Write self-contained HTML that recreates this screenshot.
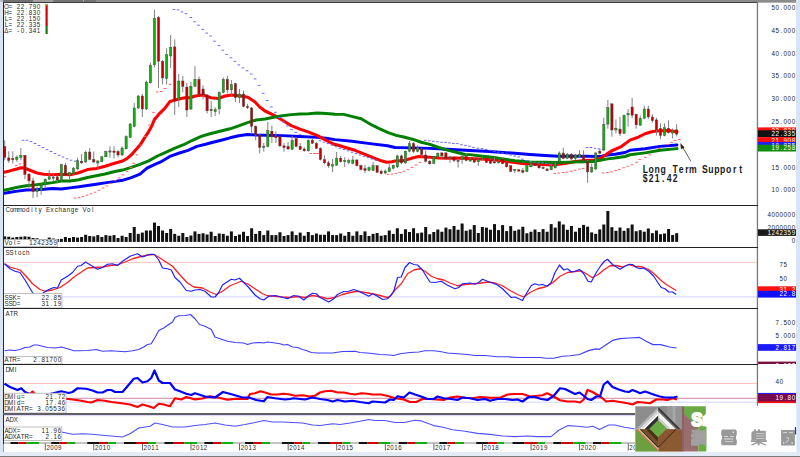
<!DOCTYPE html><html><head><meta charset="utf-8"><style>html,body{margin:0;padding:0;background:#fff;overflow:hidden}svg{display:block}</style></head><body>
<svg width="800" height="457" viewBox="0 0 800 457">
<rect x="0" y="0" width="800" height="457" fill="#ffffff"/>
<polyline points="3.90,193.40 8.75,192.50 17.50,191.10 26.20,190.00 35.00,189.75 43.70,189.30 52.50,188.49 61.20,189.00 70.00,187.90 78.75,186.80 87.50,185.50 96.25,184.20 105.00,182.90 113.75,181.60 122.50,180.30 131.25,177.65 140.00,174.15 147.00,168.18 154.90,164.40 161.90,161.30 170.60,156.10 179.40,153.00 188.10,150.40 196.90,146.40 205.60,144.25 212.00,142.50 221.20,140.20 230.00,137.80 238.70,135.80 247.50,134.50 256.00,135.00 265.00,135.20 282.50,135.60 300.00,136.50 317.50,137.40 326.25,138.25 335.00,139.60 352.00,141.30 370.00,143.60 387.50,145.80 395.00,147.50 412.50,147.90 430.00,148.40 447.50,149.25 465.00,150.30 470.00,150.50 485.00,151.25 500.00,152.30 515.00,153.30 530.00,154.50 545.00,155.50 558.00,156.20 585.00,156.10 596.00,156.50 601.50,156.10 607.50,155.00 615.00,154.25 625.00,152.50 630.00,150.25 645.00,148.75 660.00,146.40 677.00,145.00" fill="none" stroke="#0000ff" stroke-width="2.95" stroke-linejoin="round" stroke-linecap="round"/>
<polyline points="3.90,172.25 8.75,171.20 13.10,169.90 17.50,168.75 21.00,167.70 23.60,167.90 26.20,168.75 30.60,170.50 35.00,172.25 39.40,173.60 43.70,174.30 52.50,174.70 61.20,174.30 70.00,174.70 78.75,172.80 87.50,169.60 96.25,168.40 105.00,166.25 113.75,163.50 122.50,161.00 126.90,158.68 131.25,154.91 135.60,150.00 140.00,145.10 144.40,138.10 148.70,131.60 152.20,125.00 154.30,119.80 159.50,113.60 164.80,108.40 170.00,101.40 173.60,100.50 180.00,98.80 184.80,97.70 190.00,97.70 195.30,96.00 203.00,95.00 211.00,97.70 218.00,98.50 225.00,96.00 232.00,95.00 240.80,96.00 247.80,97.30 254.80,101.80 260.00,107.20 265.00,111.00 273.75,115.10 282.50,120.30 291.25,125.60 300.00,129.10 308.75,132.10 317.50,135.60 326.25,140.40 333.25,143.90 337.50,145.00 346.30,147.70 355.00,150.30 363.80,153.80 372.50,157.30 381.30,160.80 386.50,162.20 391.80,161.70 395.00,161.00 403.75,160.60 412.50,158.00 418.60,156.40 430.00,157.30 438.75,158.00 447.50,158.20 456.25,158.00 465.00,158.20 475.00,158.70 485.00,159.20 500.00,160.40 511.00,162.00 522.00,163.40 537.00,164.30 552.00,164.90 565.00,163.50 575.00,161.50 585.00,160.50 595.00,160.00 600.00,158.75 604.00,156.10 607.50,153.50 611.00,151.25 615.00,149.40 621.70,146.30 630.00,140.10 637.50,137.50 645.00,133.75 652.50,131.50 660.00,130.75 668.40,130.60 677.00,131.70" fill="none" stroke="#ff0000" stroke-width="3.05" stroke-linejoin="round" stroke-linecap="round"/>
<polyline points="3.90,190.20 8.75,189.30 17.50,187.30 26.20,185.80 35.00,184.90 43.70,183.80 52.50,182.60 61.20,181.00 70.00,181.00 78.75,179.70 87.50,177.50 96.25,175.70 105.00,174.00 113.75,171.80 122.50,170.05 131.25,167.40 140.00,164.30 148.70,160.90 157.50,156.00 166.20,152.10 175.00,148.20 183.70,144.70 192.50,140.30 201.20,136.40 210.00,133.75 221.00,131.00 230.00,128.80 238.70,125.80 247.50,122.70 256.20,120.00 265.00,119.00 273.75,117.25 282.50,115.70 291.25,114.60 300.00,114.00 308.75,113.75 317.50,113.00 326.25,113.50 335.00,114.20 343.75,114.40 352.50,116.60 361.25,118.75 370.00,124.00 378.75,128.40 387.50,132.30 396.25,135.40 403.75,137.00 412.50,139.20 421.25,142.25 430.00,144.40 438.75,147.50 447.50,150.10 456.25,152.30 465.00,154.50 470.00,154.60 477.50,155.60 485.00,156.50 492.50,157.25 500.00,158.40 515.00,160.80 530.00,161.90 545.00,162.30 558.00,162.50 570.00,162.10 585.00,161.75 592.50,161.60 600.00,160.25 607.50,158.90 615.00,158.00 625.00,156.50 630.00,154.75 645.00,152.90 660.00,150.25 677.00,148.60" fill="none" stroke="#008000" stroke-width="2.95" stroke-linejoin="round" stroke-linecap="round"/>
<rect x="21.70" y="139.70" width="2.6" height="1" fill="#6a6aff"/>
<rect x="25.70" y="139.70" width="2.6" height="1" fill="#6a6aff"/>
<rect x="29.70" y="141.10" width="2.6" height="1" fill="#6a6aff"/>
<rect x="33.70" y="143.00" width="2.6" height="1" fill="#6a6aff"/>
<rect x="37.70" y="145.00" width="2.6" height="1" fill="#6a6aff"/>
<rect x="41.70" y="147.10" width="2.6" height="1" fill="#6a6aff"/>
<rect x="45.70" y="149.10" width="2.6" height="1" fill="#6a6aff"/>
<rect x="49.70" y="151.00" width="2.6" height="1" fill="#6a6aff"/>
<rect x="53.70" y="153.00" width="2.6" height="1" fill="#6a6aff"/>
<rect x="57.70" y="154.80" width="2.6" height="1" fill="#6a6aff"/>
<rect x="61.70" y="156.50" width="2.6" height="1" fill="#6a6aff"/>
<rect x="65.70" y="158.30" width="2.6" height="1" fill="#6a6aff"/>
<rect x="69.70" y="159.70" width="2.6" height="1" fill="#6a6aff"/>
<rect x="73.70" y="160.70" width="2.6" height="1" fill="#6a6aff"/>
<rect x="172.70" y="9.10" width="2.6" height="1" fill="#6a6aff"/>
<rect x="176.70" y="9.40" width="2.6" height="1" fill="#6a6aff"/>
<rect x="180.70" y="11.40" width="2.6" height="1" fill="#6a6aff"/>
<rect x="184.70" y="13.20" width="2.6" height="1" fill="#6a6aff"/>
<rect x="189.50" y="17.00" width="2.6" height="1" fill="#6a6aff"/>
<rect x="193.30" y="21.30" width="2.6" height="1" fill="#6a6aff"/>
<rect x="197.20" y="24.70" width="2.6" height="1" fill="#6a6aff"/>
<rect x="201.40" y="28.90" width="2.6" height="1" fill="#6a6aff"/>
<rect x="205.40" y="32.60" width="2.6" height="1" fill="#6a6aff"/>
<rect x="209.30" y="35.50" width="2.6" height="1" fill="#6a6aff"/>
<rect x="213.20" y="40.70" width="2.6" height="1" fill="#6a6aff"/>
<rect x="217.60" y="45.10" width="2.6" height="1" fill="#6a6aff"/>
<rect x="221.50" y="49.70" width="2.6" height="1" fill="#6a6aff"/>
<rect x="225.40" y="53.90" width="2.6" height="1" fill="#6a6aff"/>
<rect x="229.70" y="57.20" width="2.6" height="1" fill="#6a6aff"/>
<rect x="233.60" y="60.80" width="2.6" height="1" fill="#6a6aff"/>
<rect x="237.50" y="64.40" width="2.6" height="1" fill="#6a6aff"/>
<rect x="241.60" y="67.40" width="2.6" height="1" fill="#6a6aff"/>
<rect x="245.80" y="70.30" width="2.6" height="1" fill="#6a6aff"/>
<rect x="250.00" y="73.50" width="2.6" height="1" fill="#6a6aff"/>
<rect x="253.80" y="78.40" width="2.6" height="1" fill="#6a6aff"/>
<rect x="257.90" y="84.90" width="2.6" height="1" fill="#6a6aff"/>
<rect x="261.90" y="92.80" width="2.6" height="1" fill="#6a6aff"/>
<rect x="265.90" y="100.00" width="2.6" height="1" fill="#6a6aff"/>
<rect x="270.10" y="106.50" width="2.6" height="1" fill="#6a6aff"/>
<rect x="274.10" y="111.80" width="2.6" height="1" fill="#6a6aff"/>
<rect x="278.20" y="117.00" width="2.6" height="1" fill="#6a6aff"/>
<rect x="282.20" y="121.40" width="2.6" height="1" fill="#6a6aff"/>
<rect x="286.20" y="125.40" width="2.6" height="1" fill="#6a6aff"/>
<rect x="290.20" y="128.90" width="2.6" height="1" fill="#6a6aff"/>
<rect x="294.40" y="131.90" width="2.6" height="1" fill="#6a6aff"/>
<rect x="298.70" y="134.20" width="2.6" height="1" fill="#6a6aff"/>
<rect x="318.70" y="140.20" width="2.6" height="1" fill="#6a6aff"/>
<rect x="322.70" y="141.60" width="2.6" height="1" fill="#6a6aff"/>
<rect x="326.70" y="143.10" width="2.6" height="1" fill="#6a6aff"/>
<rect x="330.70" y="144.60" width="2.6" height="1" fill="#6a6aff"/>
<rect x="334.70" y="146.20" width="2.6" height="1" fill="#6a6aff"/>
<rect x="338.70" y="147.70" width="2.6" height="1" fill="#6a6aff"/>
<rect x="342.70" y="149.00" width="2.6" height="1" fill="#6a6aff"/>
<rect x="346.70" y="150.30" width="2.6" height="1" fill="#6a6aff"/>
<rect x="350.70" y="151.70" width="2.6" height="1" fill="#6a6aff"/>
<rect x="354.70" y="153.10" width="2.6" height="1" fill="#6a6aff"/>
<rect x="358.70" y="154.50" width="2.6" height="1" fill="#6a6aff"/>
<rect x="362.70" y="155.80" width="2.6" height="1" fill="#6a6aff"/>
<rect x="366.70" y="157.10" width="2.6" height="1" fill="#6a6aff"/>
<rect x="370.70" y="158.50" width="2.6" height="1" fill="#6a6aff"/>
<rect x="374.70" y="159.70" width="2.6" height="1" fill="#6a6aff"/>
<rect x="424.00" y="139.80" width="2.6" height="1" fill="#6a6aff"/>
<rect x="428.00" y="140.30" width="2.6" height="1" fill="#6a6aff"/>
<rect x="432.00" y="140.80" width="2.6" height="1" fill="#6a6aff"/>
<rect x="436.10" y="141.30" width="2.6" height="1" fill="#6a6aff"/>
<rect x="440.20" y="141.75" width="2.6" height="1" fill="#6a6aff"/>
<rect x="444.30" y="141.75" width="2.6" height="1" fill="#6a6aff"/>
<rect x="448.10" y="142.40" width="2.6" height="1" fill="#6a6aff"/>
<rect x="452.00" y="142.90" width="2.6" height="1" fill="#6a6aff"/>
<rect x="456.10" y="143.10" width="2.6" height="1" fill="#6a6aff"/>
<rect x="460.10" y="144.20" width="2.6" height="1" fill="#6a6aff"/>
<rect x="464.10" y="144.90" width="2.6" height="1" fill="#6a6aff"/>
<rect x="468.20" y="145.70" width="2.6" height="1" fill="#6a6aff"/>
<rect x="472.20" y="146.90" width="2.6" height="1" fill="#6a6aff"/>
<rect x="476.60" y="147.75" width="2.6" height="1" fill="#6a6aff"/>
<rect x="480.70" y="148.10" width="2.6" height="1" fill="#6a6aff"/>
<rect x="484.80" y="148.90" width="2.6" height="1" fill="#6a6aff"/>
<rect x="488.90" y="149.80" width="2.6" height="1" fill="#6a6aff"/>
<rect x="493.00" y="150.70" width="2.6" height="1" fill="#6a6aff"/>
<rect x="497.10" y="151.60" width="2.6" height="1" fill="#6a6aff"/>
<rect x="501.20" y="152.50" width="2.6" height="1" fill="#6a6aff"/>
<rect x="505.30" y="153.50" width="2.6" height="1" fill="#6a6aff"/>
<rect x="509.40" y="154.50" width="2.6" height="1" fill="#6a6aff"/>
<rect x="513.50" y="155.50" width="2.6" height="1" fill="#6a6aff"/>
<rect x="517.30" y="156.40" width="2.6" height="1" fill="#6a6aff"/>
<rect x="521.20" y="158.60" width="2.6" height="1" fill="#6a6aff"/>
<rect x="525.10" y="160.00" width="2.6" height="1" fill="#6a6aff"/>
<rect x="529.10" y="161.10" width="2.6" height="1" fill="#6a6aff"/>
<rect x="533.20" y="162.30" width="2.6" height="1" fill="#6a6aff"/>
<rect x="537.30" y="162.30" width="2.6" height="1" fill="#6a6aff"/>
<rect x="541.20" y="162.30" width="2.6" height="1" fill="#6a6aff"/>
<rect x="545.00" y="162.90" width="2.6" height="1" fill="#6a6aff"/>
<rect x="549.20" y="164.20" width="2.6" height="1" fill="#6a6aff"/>
<rect x="585.70" y="147.00" width="2.6" height="1" fill="#6a6aff"/>
<rect x="589.70" y="147.00" width="2.6" height="1" fill="#6a6aff"/>
<rect x="593.70" y="147.80" width="2.6" height="1" fill="#6a6aff"/>
<rect x="597.70" y="148.40" width="2.6" height="1" fill="#6a6aff"/>
<rect x="601.70" y="148.90" width="2.6" height="1" fill="#6a6aff"/>
<rect x="3.60" y="176.20" width="2.6" height="1" fill="#ff6060"/>
<rect x="14.80" y="165.10" width="2.6" height="1" fill="#ff6060"/>
<rect x="18.60" y="163.30" width="2.6" height="1" fill="#ff6060"/>
<rect x="73.70" y="197.50" width="2.6" height="1" fill="#ff6060"/>
<rect x="77.70" y="196.90" width="2.6" height="1" fill="#ff6060"/>
<rect x="81.70" y="196.10" width="2.6" height="1" fill="#ff6060"/>
<rect x="85.70" y="194.70" width="2.6" height="1" fill="#ff6060"/>
<rect x="89.70" y="193.30" width="2.6" height="1" fill="#ff6060"/>
<rect x="93.70" y="191.70" width="2.6" height="1" fill="#ff6060"/>
<rect x="97.70" y="189.70" width="2.6" height="1" fill="#ff6060"/>
<rect x="101.70" y="187.50" width="2.6" height="1" fill="#ff6060"/>
<rect x="105.70" y="185.40" width="2.6" height="1" fill="#ff6060"/>
<rect x="109.70" y="182.90" width="2.6" height="1" fill="#ff6060"/>
<rect x="113.70" y="180.20" width="2.6" height="1" fill="#ff6060"/>
<rect x="117.70" y="177.40" width="2.6" height="1" fill="#ff6060"/>
<rect x="121.70" y="174.40" width="2.6" height="1" fill="#ff6060"/>
<rect x="125.70" y="170.90" width="2.6" height="1" fill="#ff6060"/>
<rect x="129.70" y="167.00" width="2.6" height="1" fill="#ff6060"/>
<rect x="132.30" y="162.70" width="2.6" height="1" fill="#ff6060"/>
<rect x="135.70" y="154.30" width="2.6" height="1" fill="#ff6060"/>
<rect x="139.90" y="144.70" width="2.6" height="1" fill="#ff6060"/>
<rect x="143.90" y="135.90" width="2.6" height="1" fill="#ff6060"/>
<rect x="148.30" y="124.50" width="2.6" height="1" fill="#ff6060"/>
<rect x="152.10" y="111.90" width="2.6" height="1" fill="#ff6060"/>
<rect x="155.70" y="91.50" width="2.6" height="1" fill="#ff6060"/>
<rect x="159.70" y="91.00" width="2.6" height="1" fill="#ff6060"/>
<rect x="163.70" y="88.00" width="2.6" height="1" fill="#ff6060"/>
<rect x="168.70" y="83.90" width="2.6" height="1" fill="#ff6060"/>
<rect x="309.20" y="153.00" width="2.6" height="1" fill="#ff6060"/>
<rect x="313.20" y="153.00" width="2.6" height="1" fill="#ff6060"/>
<rect x="316.20" y="153.10" width="2.6" height="1" fill="#ff6060"/>
<rect x="386.70" y="173.80" width="2.6" height="1" fill="#ff6060"/>
<rect x="390.70" y="173.60" width="2.6" height="1" fill="#ff6060"/>
<rect x="394.70" y="172.90" width="2.6" height="1" fill="#ff6060"/>
<rect x="398.70" y="172.00" width="2.6" height="1" fill="#ff6060"/>
<rect x="402.70" y="170.80" width="2.6" height="1" fill="#ff6060"/>
<rect x="406.70" y="169.10" width="2.6" height="1" fill="#ff6060"/>
<rect x="410.70" y="166.90" width="2.6" height="1" fill="#ff6060"/>
<rect x="414.70" y="164.50" width="2.6" height="1" fill="#ff6060"/>
<rect x="418.70" y="161.80" width="2.6" height="1" fill="#ff6060"/>
<rect x="553.40" y="172.90" width="2.6" height="1" fill="#ff6060"/>
<rect x="557.45" y="172.60" width="2.6" height="1" fill="#ff6060"/>
<rect x="561.80" y="172.00" width="2.6" height="1" fill="#ff6060"/>
<rect x="565.60" y="171.60" width="2.6" height="1" fill="#ff6060"/>
<rect x="569.95" y="170.75" width="2.6" height="1" fill="#ff6060"/>
<rect x="573.70" y="169.75" width="2.6" height="1" fill="#ff6060"/>
<rect x="578.10" y="168.60" width="2.6" height="1" fill="#ff6060"/>
<rect x="581.80" y="167.90" width="2.6" height="1" fill="#ff6060"/>
<rect x="601.80" y="172.40" width="2.6" height="1" fill="#ff6060"/>
<rect x="606.20" y="172.00" width="2.6" height="1" fill="#ff6060"/>
<rect x="610.30" y="171.40" width="2.6" height="1" fill="#ff6060"/>
<rect x="614.30" y="170.10" width="2.6" height="1" fill="#ff6060"/>
<rect x="618.10" y="168.90" width="2.6" height="1" fill="#ff6060"/>
<rect x="622.45" y="167.25" width="2.6" height="1" fill="#ff6060"/>
<rect x="626.50" y="165.75" width="2.6" height="1" fill="#ff6060"/>
<rect x="630.60" y="164.25" width="2.6" height="1" fill="#ff6060"/>
<rect x="635.30" y="161.75" width="2.6" height="1" fill="#ff6060"/>
<rect x="638.40" y="158.90" width="2.6" height="1" fill="#ff6060"/>
<rect x="644.10" y="156.90" width="2.6" height="1" fill="#ff6060"/>
<rect x="648.50" y="154.40" width="2.6" height="1" fill="#ff6060"/>
<rect x="658.10" y="147.90" width="2.6" height="1" fill="#ff6060"/>
<rect x="666.60" y="143.90" width="2.6" height="1" fill="#ff6060"/>
<rect x="670.20" y="141.90" width="2.6" height="1" fill="#ff6060"/>
<rect x="673.80" y="140.00" width="2.6" height="1" fill="#ff6060"/>
<rect x="678.00" y="138.90" width="2.6" height="1" fill="#ff6060"/>
<line x1="4.70" y1="140.40" x2="4.70" y2="160.30" stroke="#808080" stroke-width="1.0"/>
<line x1="8.75" y1="151.30" x2="8.75" y2="162.80" stroke="#808080" stroke-width="1.0"/>
<line x1="12.80" y1="151.30" x2="12.80" y2="163.70" stroke="#808080" stroke-width="1.0"/>
<line x1="16.84" y1="155.40" x2="16.84" y2="162.00" stroke="#808080" stroke-width="1.0"/>
<line x1="20.89" y1="148.00" x2="20.89" y2="160.40" stroke="#808080" stroke-width="1.0"/>
<line x1="24.94" y1="155.00" x2="24.94" y2="179.30" stroke="#808080" stroke-width="1.0"/>
<line x1="28.99" y1="173.50" x2="28.99" y2="188.30" stroke="#808080" stroke-width="1.0"/>
<line x1="33.04" y1="177.60" x2="33.04" y2="198.10" stroke="#808080" stroke-width="1.0"/>
<line x1="37.08" y1="186.60" x2="37.08" y2="197.30" stroke="#808080" stroke-width="1.0"/>
<line x1="41.13" y1="183.40" x2="41.13" y2="194.90" stroke="#808080" stroke-width="1.0"/>
<line x1="45.18" y1="178.40" x2="45.18" y2="188.30" stroke="#808080" stroke-width="1.0"/>
<line x1="49.23" y1="170.20" x2="49.23" y2="180.00" stroke="#808080" stroke-width="1.0"/>
<line x1="53.28" y1="173.50" x2="53.28" y2="181.70" stroke="#808080" stroke-width="1.0"/>
<line x1="57.32" y1="175.20" x2="57.32" y2="183.40" stroke="#808080" stroke-width="1.0"/>
<line x1="61.37" y1="163.70" x2="61.37" y2="181.70" stroke="#808080" stroke-width="1.0"/>
<line x1="65.42" y1="162.80" x2="65.42" y2="176.00" stroke="#808080" stroke-width="1.0"/>
<line x1="69.47" y1="171.90" x2="69.47" y2="179.30" stroke="#808080" stroke-width="1.0"/>
<line x1="73.52" y1="167.00" x2="73.52" y2="175.20" stroke="#808080" stroke-width="1.0"/>
<line x1="77.56" y1="157.70" x2="77.56" y2="169.90" stroke="#808080" stroke-width="1.0"/>
<line x1="81.61" y1="154.00" x2="81.61" y2="163.80" stroke="#808080" stroke-width="1.0"/>
<line x1="85.66" y1="150.60" x2="85.66" y2="162.90" stroke="#808080" stroke-width="1.0"/>
<line x1="89.71" y1="148.00" x2="89.71" y2="160.30" stroke="#808080" stroke-width="1.0"/>
<line x1="93.76" y1="151.50" x2="93.76" y2="162.90" stroke="#808080" stroke-width="1.0"/>
<line x1="97.80" y1="160.00" x2="97.80" y2="170.00" stroke="#808080" stroke-width="1.0"/>
<line x1="101.85" y1="156.00" x2="101.85" y2="162.00" stroke="#808080" stroke-width="1.0"/>
<line x1="105.90" y1="150.60" x2="105.90" y2="157.00" stroke="#808080" stroke-width="1.0"/>
<line x1="109.95" y1="146.30" x2="109.95" y2="157.70" stroke="#808080" stroke-width="1.0"/>
<line x1="114.00" y1="146.30" x2="114.00" y2="158.50" stroke="#808080" stroke-width="1.0"/>
<line x1="118.04" y1="149.80" x2="118.04" y2="157.00" stroke="#808080" stroke-width="1.0"/>
<line x1="122.09" y1="146.30" x2="122.09" y2="155.90" stroke="#808080" stroke-width="1.0"/>
<line x1="126.14" y1="135.30" x2="126.14" y2="148.90" stroke="#808080" stroke-width="1.0"/>
<line x1="130.19" y1="123.00" x2="130.19" y2="138.00" stroke="#808080" stroke-width="1.0"/>
<line x1="134.24" y1="103.00" x2="134.24" y2="127.40" stroke="#808080" stroke-width="1.0"/>
<line x1="138.28" y1="95.00" x2="138.28" y2="109.00" stroke="#808080" stroke-width="1.0"/>
<line x1="142.33" y1="94.00" x2="142.33" y2="117.00" stroke="#808080" stroke-width="1.0"/>
<line x1="146.38" y1="80.70" x2="146.38" y2="110.00" stroke="#808080" stroke-width="1.0"/>
<line x1="150.43" y1="62.70" x2="150.43" y2="83.60" stroke="#808080" stroke-width="1.0"/>
<line x1="154.48" y1="9.60" x2="154.48" y2="67.40" stroke="#808080" stroke-width="1.0"/>
<line x1="158.52" y1="16.00" x2="158.52" y2="88.00" stroke="#808080" stroke-width="1.0"/>
<line x1="162.57" y1="60.00" x2="162.57" y2="84.50" stroke="#808080" stroke-width="1.0"/>
<line x1="166.62" y1="48.20" x2="166.62" y2="84.50" stroke="#808080" stroke-width="1.0"/>
<line x1="170.67" y1="35.00" x2="170.67" y2="67.90" stroke="#808080" stroke-width="1.0"/>
<line x1="174.72" y1="39.40" x2="174.72" y2="115.00" stroke="#808080" stroke-width="1.0"/>
<line x1="178.76" y1="74.00" x2="178.76" y2="107.00" stroke="#808080" stroke-width="1.0"/>
<line x1="182.81" y1="75.80" x2="182.81" y2="92.40" stroke="#808080" stroke-width="1.0"/>
<line x1="186.86" y1="82.80" x2="186.86" y2="117.00" stroke="#808080" stroke-width="1.0"/>
<line x1="190.91" y1="82.00" x2="190.91" y2="110.00" stroke="#808080" stroke-width="1.0"/>
<line x1="194.96" y1="66.00" x2="194.96" y2="87.00" stroke="#808080" stroke-width="1.0"/>
<line x1="199.00" y1="76.60" x2="199.00" y2="95.00" stroke="#808080" stroke-width="1.0"/>
<line x1="203.05" y1="85.40" x2="203.05" y2="99.40" stroke="#808080" stroke-width="1.0"/>
<line x1="207.10" y1="94.00" x2="207.10" y2="113.40" stroke="#808080" stroke-width="1.0"/>
<line x1="211.15" y1="101.00" x2="211.15" y2="117.00" stroke="#808080" stroke-width="1.0"/>
<line x1="215.20" y1="107.30" x2="215.20" y2="116.00" stroke="#808080" stroke-width="1.0"/>
<line x1="219.24" y1="91.50" x2="219.24" y2="114.30" stroke="#808080" stroke-width="1.0"/>
<line x1="223.29" y1="77.50" x2="223.29" y2="93.30" stroke="#808080" stroke-width="1.0"/>
<line x1="227.34" y1="75.80" x2="227.34" y2="93.30" stroke="#808080" stroke-width="1.0"/>
<line x1="231.39" y1="80.00" x2="231.39" y2="96.00" stroke="#808080" stroke-width="1.0"/>
<line x1="235.44" y1="82.80" x2="235.44" y2="102.00" stroke="#808080" stroke-width="1.0"/>
<line x1="239.48" y1="89.00" x2="239.48" y2="103.00" stroke="#808080" stroke-width="1.0"/>
<line x1="243.53" y1="90.60" x2="243.53" y2="107.30" stroke="#808080" stroke-width="1.0"/>
<line x1="247.58" y1="103.80" x2="247.58" y2="109.00" stroke="#808080" stroke-width="1.0"/>
<line x1="251.63" y1="107.00" x2="251.63" y2="134.00" stroke="#808080" stroke-width="1.0"/>
<line x1="255.68" y1="125.40" x2="255.68" y2="140.30" stroke="#808080" stroke-width="1.0"/>
<line x1="259.72" y1="133.30" x2="259.72" y2="153.40" stroke="#808080" stroke-width="1.0"/>
<line x1="263.77" y1="143.00" x2="263.77" y2="151.70" stroke="#808080" stroke-width="1.0"/>
<line x1="267.82" y1="121.90" x2="267.82" y2="147.30" stroke="#808080" stroke-width="1.0"/>
<line x1="271.87" y1="125.40" x2="271.87" y2="143.00" stroke="#808080" stroke-width="1.0"/>
<line x1="275.92" y1="131.50" x2="275.92" y2="143.00" stroke="#808080" stroke-width="1.0"/>
<line x1="279.96" y1="136.00" x2="279.96" y2="147.00" stroke="#808080" stroke-width="1.0"/>
<line x1="284.01" y1="143.00" x2="284.01" y2="151.70" stroke="#808080" stroke-width="1.0"/>
<line x1="288.06" y1="142.00" x2="288.06" y2="150.00" stroke="#808080" stroke-width="1.0"/>
<line x1="292.11" y1="136.00" x2="292.11" y2="150.00" stroke="#808080" stroke-width="1.0"/>
<line x1="296.16" y1="137.60" x2="296.16" y2="147.30" stroke="#808080" stroke-width="1.0"/>
<line x1="300.20" y1="143.00" x2="300.20" y2="150.00" stroke="#808080" stroke-width="1.0"/>
<line x1="304.25" y1="147.30" x2="304.25" y2="151.70" stroke="#808080" stroke-width="1.0"/>
<line x1="308.30" y1="139.40" x2="308.30" y2="151.70" stroke="#808080" stroke-width="1.0"/>
<line x1="312.35" y1="139.00" x2="312.35" y2="143.80" stroke="#808080" stroke-width="1.0"/>
<line x1="316.40" y1="142.00" x2="316.40" y2="149.00" stroke="#808080" stroke-width="1.0"/>
<line x1="320.44" y1="147.30" x2="320.44" y2="160.40" stroke="#808080" stroke-width="1.0"/>
<line x1="324.49" y1="155.50" x2="324.49" y2="164.30" stroke="#808080" stroke-width="1.0"/>
<line x1="328.54" y1="160.80" x2="328.54" y2="167.80" stroke="#808080" stroke-width="1.0"/>
<line x1="332.59" y1="159.00" x2="332.59" y2="172.20" stroke="#808080" stroke-width="1.0"/>
<line x1="336.64" y1="152.00" x2="336.64" y2="165.70" stroke="#808080" stroke-width="1.0"/>
<line x1="340.68" y1="156.00" x2="340.68" y2="162.50" stroke="#808080" stroke-width="1.0"/>
<line x1="344.73" y1="157.30" x2="344.73" y2="167.00" stroke="#808080" stroke-width="1.0"/>
<line x1="348.78" y1="158.70" x2="348.78" y2="164.30" stroke="#808080" stroke-width="1.0"/>
<line x1="352.83" y1="156.00" x2="352.83" y2="164.30" stroke="#808080" stroke-width="1.0"/>
<line x1="356.88" y1="159.00" x2="356.88" y2="166.40" stroke="#808080" stroke-width="1.0"/>
<line x1="360.92" y1="164.60" x2="360.92" y2="170.40" stroke="#808080" stroke-width="1.0"/>
<line x1="364.97" y1="165.00" x2="364.97" y2="173.00" stroke="#808080" stroke-width="1.0"/>
<line x1="369.02" y1="166.40" x2="369.02" y2="171.30" stroke="#808080" stroke-width="1.0"/>
<line x1="373.07" y1="162.00" x2="373.07" y2="171.00" stroke="#808080" stroke-width="1.0"/>
<line x1="377.12" y1="165.20" x2="377.12" y2="173.00" stroke="#808080" stroke-width="1.0"/>
<line x1="381.16" y1="169.50" x2="381.16" y2="174.40" stroke="#808080" stroke-width="1.0"/>
<line x1="385.21" y1="169.50" x2="385.21" y2="174.40" stroke="#808080" stroke-width="1.0"/>
<line x1="389.26" y1="164.00" x2="389.26" y2="172.20" stroke="#808080" stroke-width="1.0"/>
<line x1="393.31" y1="164.60" x2="393.31" y2="169.40" stroke="#808080" stroke-width="1.0"/>
<line x1="397.36" y1="154.70" x2="397.36" y2="168.20" stroke="#808080" stroke-width="1.0"/>
<line x1="401.40" y1="154.70" x2="401.40" y2="164.10" stroke="#808080" stroke-width="1.0"/>
<line x1="405.45" y1="150.60" x2="405.45" y2="164.10" stroke="#808080" stroke-width="1.0"/>
<line x1="409.50" y1="141.00" x2="409.50" y2="152.40" stroke="#808080" stroke-width="1.0"/>
<line x1="413.55" y1="141.90" x2="413.55" y2="153.00" stroke="#808080" stroke-width="1.0"/>
<line x1="417.60" y1="145.40" x2="417.60" y2="152.40" stroke="#808080" stroke-width="1.0"/>
<line x1="421.64" y1="148.00" x2="421.64" y2="157.70" stroke="#808080" stroke-width="1.0"/>
<line x1="425.69" y1="150.60" x2="425.69" y2="162.40" stroke="#808080" stroke-width="1.0"/>
<line x1="429.74" y1="160.00" x2="429.74" y2="164.70" stroke="#808080" stroke-width="1.0"/>
<line x1="433.79" y1="155.90" x2="433.79" y2="164.10" stroke="#808080" stroke-width="1.0"/>
<line x1="437.84" y1="152.40" x2="437.84" y2="157.70" stroke="#808080" stroke-width="1.0"/>
<line x1="441.88" y1="152.40" x2="441.88" y2="159.40" stroke="#808080" stroke-width="1.0"/>
<line x1="445.93" y1="152.40" x2="445.93" y2="158.90" stroke="#808080" stroke-width="1.0"/>
<line x1="449.98" y1="155.90" x2="449.98" y2="162.90" stroke="#808080" stroke-width="1.0"/>
<line x1="454.03" y1="155.90" x2="454.03" y2="162.00" stroke="#808080" stroke-width="1.0"/>
<line x1="458.08" y1="159.40" x2="458.08" y2="167.60" stroke="#808080" stroke-width="1.0"/>
<line x1="462.12" y1="155.30" x2="462.12" y2="163.80" stroke="#808080" stroke-width="1.0"/>
<line x1="466.17" y1="154.20" x2="466.17" y2="161.10" stroke="#808080" stroke-width="1.0"/>
<line x1="470.22" y1="157.20" x2="470.22" y2="161.80" stroke="#808080" stroke-width="1.0"/>
<line x1="474.27" y1="157.60" x2="474.27" y2="162.60" stroke="#808080" stroke-width="1.0"/>
<line x1="478.32" y1="158.40" x2="478.32" y2="166.00" stroke="#808080" stroke-width="1.0"/>
<line x1="482.36" y1="155.70" x2="482.36" y2="160.00" stroke="#808080" stroke-width="1.0"/>
<line x1="486.41" y1="157.20" x2="486.41" y2="163.00" stroke="#808080" stroke-width="1.0"/>
<line x1="490.46" y1="159.20" x2="490.46" y2="163.80" stroke="#808080" stroke-width="1.0"/>
<line x1="494.51" y1="157.20" x2="494.51" y2="163.40" stroke="#808080" stroke-width="1.0"/>
<line x1="498.56" y1="160.70" x2="498.56" y2="163.40" stroke="#808080" stroke-width="1.0"/>
<line x1="502.60" y1="157.20" x2="502.60" y2="164.10" stroke="#808080" stroke-width="1.0"/>
<line x1="506.65" y1="162.60" x2="506.65" y2="167.60" stroke="#808080" stroke-width="1.0"/>
<line x1="510.70" y1="165.30" x2="510.70" y2="171.80" stroke="#808080" stroke-width="1.0"/>
<line x1="514.75" y1="169.10" x2="514.75" y2="173.00" stroke="#808080" stroke-width="1.0"/>
<line x1="518.80" y1="169.00" x2="518.80" y2="171.70" stroke="#808080" stroke-width="1.0"/>
<line x1="522.84" y1="167.90" x2="522.84" y2="173.30" stroke="#808080" stroke-width="1.0"/>
<line x1="526.89" y1="165.10" x2="526.89" y2="172.20" stroke="#808080" stroke-width="1.0"/>
<line x1="530.94" y1="161.80" x2="530.94" y2="167.30" stroke="#808080" stroke-width="1.0"/>
<line x1="534.99" y1="161.30" x2="534.99" y2="166.20" stroke="#808080" stroke-width="1.0"/>
<line x1="539.04" y1="164.60" x2="539.04" y2="168.40" stroke="#808080" stroke-width="1.0"/>
<line x1="543.08" y1="165.70" x2="543.08" y2="169.00" stroke="#808080" stroke-width="1.0"/>
<line x1="547.13" y1="167.90" x2="547.13" y2="171.10" stroke="#808080" stroke-width="1.0"/>
<line x1="551.18" y1="165.10" x2="551.18" y2="170.00" stroke="#808080" stroke-width="1.0"/>
<line x1="555.23" y1="161.30" x2="555.23" y2="168.40" stroke="#808080" stroke-width="1.0"/>
<line x1="559.28" y1="151.40" x2="559.28" y2="161.80" stroke="#808080" stroke-width="1.0"/>
<line x1="563.32" y1="147.60" x2="563.32" y2="159.10" stroke="#808080" stroke-width="1.0"/>
<line x1="567.37" y1="153.00" x2="567.37" y2="159.00" stroke="#808080" stroke-width="1.0"/>
<line x1="571.42" y1="153.00" x2="571.42" y2="159.80" stroke="#808080" stroke-width="1.0"/>
<line x1="575.47" y1="154.00" x2="575.47" y2="160.00" stroke="#808080" stroke-width="1.0"/>
<line x1="579.52" y1="150.30" x2="579.52" y2="157.50" stroke="#808080" stroke-width="1.0"/>
<line x1="583.56" y1="150.30" x2="583.56" y2="161.30" stroke="#808080" stroke-width="1.0"/>
<line x1="587.61" y1="160.10" x2="587.61" y2="182.80" stroke="#808080" stroke-width="1.0"/>
<line x1="591.66" y1="163.60" x2="591.66" y2="172.80" stroke="#808080" stroke-width="1.0"/>
<line x1="595.71" y1="151.90" x2="595.71" y2="169.80" stroke="#808080" stroke-width="1.0"/>
<line x1="599.76" y1="148.80" x2="599.76" y2="154.30" stroke="#808080" stroke-width="1.0"/>
<line x1="603.80" y1="117.60" x2="603.80" y2="151.00" stroke="#808080" stroke-width="1.0"/>
<line x1="607.85" y1="99.80" x2="607.85" y2="128.70" stroke="#808080" stroke-width="1.0"/>
<line x1="611.90" y1="103.80" x2="611.90" y2="136.60" stroke="#808080" stroke-width="1.0"/>
<line x1="615.95" y1="119.50" x2="615.95" y2="133.30" stroke="#808080" stroke-width="1.0"/>
<line x1="620.00" y1="116.90" x2="620.00" y2="135.90" stroke="#808080" stroke-width="1.0"/>
<line x1="624.04" y1="114.30" x2="624.04" y2="134.00" stroke="#808080" stroke-width="1.0"/>
<line x1="628.09" y1="109.00" x2="628.09" y2="126.70" stroke="#808080" stroke-width="1.0"/>
<line x1="632.14" y1="97.90" x2="632.14" y2="118.20" stroke="#808080" stroke-width="1.0"/>
<line x1="636.19" y1="113.60" x2="636.19" y2="128.70" stroke="#808080" stroke-width="1.0"/>
<line x1="640.24" y1="115.50" x2="640.24" y2="125.70" stroke="#808080" stroke-width="1.0"/>
<line x1="644.28" y1="105.70" x2="644.28" y2="119.20" stroke="#808080" stroke-width="1.0"/>
<line x1="648.33" y1="105.70" x2="648.33" y2="119.20" stroke="#808080" stroke-width="1.0"/>
<line x1="652.38" y1="114.20" x2="652.38" y2="122.70" stroke="#808080" stroke-width="1.0"/>
<line x1="656.43" y1="117.80" x2="656.43" y2="135.50" stroke="#808080" stroke-width="1.0"/>
<line x1="660.48" y1="123.40" x2="660.48" y2="139.10" stroke="#808080" stroke-width="1.0"/>
<line x1="664.52" y1="123.40" x2="664.52" y2="136.30" stroke="#808080" stroke-width="1.0"/>
<line x1="668.57" y1="120.30" x2="668.57" y2="133.40" stroke="#808080" stroke-width="1.0"/>
<line x1="672.62" y1="128.40" x2="672.62" y2="138.40" stroke="#808080" stroke-width="1.0"/>
<line x1="676.67" y1="124.20" x2="676.67" y2="136.30" stroke="#808080" stroke-width="1.0"/>
<rect x="3.55" y="146.50" width="2.3" height="10.70" fill="#c00000" stroke="#404040" stroke-width="0.4"/>
<rect x="7.60" y="157.90" width="2.3" height="2.50" fill="#c00000" stroke="#404040" stroke-width="0.4"/>
<rect x="11.65" y="158.55" width="2.3" height="1.20" fill="#c00000" stroke="#404040" stroke-width="0.4"/>
<rect x="15.69" y="157.10" width="2.3" height="2.50" fill="#10b010" stroke="#404040" stroke-width="0.4"/>
<rect x="19.74" y="155.40" width="2.3" height="2.20" fill="#10b010" stroke="#404040" stroke-width="0.4"/>
<rect x="23.79" y="155.40" width="2.3" height="18.90" fill="#c00000" stroke="#404040" stroke-width="0.4"/>
<rect x="27.84" y="174.00" width="2.3" height="6.90" fill="#c00000" stroke="#404040" stroke-width="0.4"/>
<rect x="31.89" y="180.90" width="2.3" height="10.70" fill="#c00000" stroke="#404040" stroke-width="0.4"/>
<rect x="35.93" y="189.40" width="2.3" height="2.20" fill="#10b010" stroke="#404040" stroke-width="0.4"/>
<rect x="39.98" y="185.00" width="2.3" height="5.00" fill="#10b010" stroke="#404040" stroke-width="0.4"/>
<rect x="44.03" y="179.30" width="2.3" height="4.90" fill="#10b010" stroke="#404040" stroke-width="0.4"/>
<rect x="48.08" y="176.80" width="2.3" height="2.50" fill="#10b010" stroke="#404040" stroke-width="0.4"/>
<rect x="52.13" y="177.00" width="2.3" height="1.20" fill="#555555" stroke="#404040" stroke-width="0.4"/>
<rect x="56.17" y="176.80" width="2.3" height="3.20" fill="#c00000" stroke="#404040" stroke-width="0.4"/>
<rect x="60.22" y="164.50" width="2.3" height="15.50" fill="#10b010" stroke="#404040" stroke-width="0.4"/>
<rect x="64.27" y="165.30" width="2.3" height="9.90" fill="#c00000" stroke="#404040" stroke-width="0.4"/>
<rect x="68.32" y="172.70" width="2.3" height="2.50" fill="#10b010" stroke="#404040" stroke-width="0.4"/>
<rect x="72.37" y="168.10" width="2.3" height="5.90" fill="#10b010" stroke="#404040" stroke-width="0.4"/>
<rect x="76.41" y="160.60" width="2.3" height="8.40" fill="#10b010" stroke="#404040" stroke-width="0.4"/>
<rect x="80.46" y="161.20" width="2.3" height="1.70" fill="#c00000" stroke="#404040" stroke-width="0.4"/>
<rect x="84.51" y="152.40" width="2.3" height="9.60" fill="#10b010" stroke="#404040" stroke-width="0.4"/>
<rect x="88.56" y="152.00" width="2.3" height="7.40" fill="#c00000" stroke="#404040" stroke-width="0.4"/>
<rect x="92.61" y="159.40" width="2.3" height="2.60" fill="#c00000" stroke="#404040" stroke-width="0.4"/>
<rect x="96.65" y="161.00" width="2.3" height="2.00" fill="#10b010" stroke="#404040" stroke-width="0.4"/>
<rect x="100.70" y="156.80" width="2.3" height="4.90" fill="#10b010" stroke="#404040" stroke-width="0.4"/>
<rect x="104.75" y="151.50" width="2.3" height="5.30" fill="#10b010" stroke="#404040" stroke-width="0.4"/>
<rect x="108.80" y="150.90" width="2.3" height="1.20" fill="#555555" stroke="#404040" stroke-width="0.4"/>
<rect x="112.85" y="151.00" width="2.3" height="1.50" fill="#c00000" stroke="#404040" stroke-width="0.4"/>
<rect x="116.89" y="151.50" width="2.3" height="3.50" fill="#c00000" stroke="#404040" stroke-width="0.4"/>
<rect x="120.94" y="148.00" width="2.3" height="7.00" fill="#10b010" stroke="#404040" stroke-width="0.4"/>
<rect x="124.99" y="136.60" width="2.3" height="12.30" fill="#10b010" stroke="#404040" stroke-width="0.4"/>
<rect x="129.04" y="124.00" width="2.3" height="13.50" fill="#10b010" stroke="#404040" stroke-width="0.4"/>
<rect x="133.09" y="108.00" width="2.3" height="18.50" fill="#10b010" stroke="#404040" stroke-width="0.4"/>
<rect x="137.13" y="96.00" width="2.3" height="12.00" fill="#10b010" stroke="#404040" stroke-width="0.4"/>
<rect x="141.18" y="96.00" width="2.3" height="13.00" fill="#c00000" stroke="#404040" stroke-width="0.4"/>
<rect x="145.23" y="82.00" width="2.3" height="27.00" fill="#10b010" stroke="#404040" stroke-width="0.4"/>
<rect x="149.28" y="65.30" width="2.3" height="17.50" fill="#10b010" stroke="#404040" stroke-width="0.4"/>
<rect x="153.33" y="18.40" width="2.3" height="46.40" fill="#10b010" stroke="#404040" stroke-width="0.4"/>
<rect x="157.37" y="17.50" width="2.3" height="43.80" fill="#c00000" stroke="#404040" stroke-width="0.4"/>
<rect x="161.42" y="61.30" width="2.3" height="16.70" fill="#c00000" stroke="#404040" stroke-width="0.4"/>
<rect x="165.47" y="54.60" width="2.3" height="24.00" fill="#10b010" stroke="#404040" stroke-width="0.4"/>
<rect x="169.52" y="47.30" width="2.3" height="8.70" fill="#10b010" stroke="#404040" stroke-width="0.4"/>
<rect x="173.57" y="46.90" width="2.3" height="54.10" fill="#c00000" stroke="#404040" stroke-width="0.4"/>
<rect x="177.61" y="81.00" width="2.3" height="18.40" fill="#10b010" stroke="#404040" stroke-width="0.4"/>
<rect x="181.66" y="81.00" width="2.3" height="5.30" fill="#c00000" stroke="#404040" stroke-width="0.4"/>
<rect x="185.71" y="87.10" width="2.3" height="22.90" fill="#c00000" stroke="#404040" stroke-width="0.4"/>
<rect x="189.76" y="86.30" width="2.3" height="22.70" fill="#10b010" stroke="#404040" stroke-width="0.4"/>
<rect x="193.81" y="79.30" width="2.3" height="7.00" fill="#10b010" stroke="#404040" stroke-width="0.4"/>
<rect x="197.85" y="79.30" width="2.3" height="14.90" fill="#c00000" stroke="#404040" stroke-width="0.4"/>
<rect x="201.90" y="89.00" width="2.3" height="6.00" fill="#c00000" stroke="#404040" stroke-width="0.4"/>
<rect x="205.95" y="95.00" width="2.3" height="15.80" fill="#c00000" stroke="#404040" stroke-width="0.4"/>
<rect x="210.00" y="109.40" width="2.3" height="1.20" fill="#c00000" stroke="#404040" stroke-width="0.4"/>
<rect x="214.05" y="109.60" width="2.3" height="2.10" fill="#10b010" stroke="#404040" stroke-width="0.4"/>
<rect x="218.09" y="92.40" width="2.3" height="16.60" fill="#10b010" stroke="#404040" stroke-width="0.4"/>
<rect x="222.14" y="79.30" width="2.3" height="13.10" fill="#10b010" stroke="#404040" stroke-width="0.4"/>
<rect x="226.19" y="79.30" width="2.3" height="10.50" fill="#c00000" stroke="#404040" stroke-width="0.4"/>
<rect x="230.24" y="84.50" width="2.3" height="5.30" fill="#10b010" stroke="#404040" stroke-width="0.4"/>
<rect x="234.29" y="83.60" width="2.3" height="14.10" fill="#c00000" stroke="#404040" stroke-width="0.4"/>
<rect x="238.33" y="94.00" width="2.3" height="3.70" fill="#10b010" stroke="#404040" stroke-width="0.4"/>
<rect x="242.38" y="94.00" width="2.3" height="12.40" fill="#c00000" stroke="#404040" stroke-width="0.4"/>
<rect x="246.43" y="106.40" width="2.3" height="1.20" fill="#c00000" stroke="#404040" stroke-width="0.4"/>
<rect x="250.48" y="107.90" width="2.3" height="18.40" fill="#c00000" stroke="#404040" stroke-width="0.4"/>
<rect x="254.53" y="126.30" width="2.3" height="8.70" fill="#c00000" stroke="#404040" stroke-width="0.4"/>
<rect x="258.57" y="135.00" width="2.3" height="12.30" fill="#c00000" stroke="#404040" stroke-width="0.4"/>
<rect x="262.62" y="146.25" width="2.3" height="1.20" fill="#10b010" stroke="#404040" stroke-width="0.4"/>
<rect x="266.67" y="130.60" width="2.3" height="15.80" fill="#10b010" stroke="#404040" stroke-width="0.4"/>
<rect x="270.72" y="131.20" width="2.3" height="5.60" fill="#c00000" stroke="#404040" stroke-width="0.4"/>
<rect x="274.77" y="135.90" width="2.3" height="1.80" fill="#c00000" stroke="#404040" stroke-width="0.4"/>
<rect x="278.81" y="136.80" width="2.3" height="9.10" fill="#c00000" stroke="#404040" stroke-width="0.4"/>
<rect x="282.86" y="145.90" width="2.3" height="1.70" fill="#c00000" stroke="#404040" stroke-width="0.4"/>
<rect x="286.91" y="146.40" width="2.3" height="2.60" fill="#c00000" stroke="#404040" stroke-width="0.4"/>
<rect x="290.96" y="140.30" width="2.3" height="9.10" fill="#10b010" stroke="#404040" stroke-width="0.4"/>
<rect x="295.01" y="138.50" width="2.3" height="7.90" fill="#c00000" stroke="#404040" stroke-width="0.4"/>
<rect x="299.05" y="146.40" width="2.3" height="3.00" fill="#c00000" stroke="#404040" stroke-width="0.4"/>
<rect x="303.10" y="149.00" width="2.3" height="1.80" fill="#c00000" stroke="#404040" stroke-width="0.4"/>
<rect x="307.15" y="140.60" width="2.3" height="10.20" fill="#10b010" stroke="#404040" stroke-width="0.4"/>
<rect x="311.20" y="140.30" width="2.3" height="3.00" fill="#c00000" stroke="#404040" stroke-width="0.4"/>
<rect x="315.25" y="143.40" width="2.3" height="5.00" fill="#c00000" stroke="#404040" stroke-width="0.4"/>
<rect x="319.29" y="148.40" width="2.3" height="11.10" fill="#c00000" stroke="#404040" stroke-width="0.4"/>
<rect x="323.34" y="159.70" width="2.3" height="3.10" fill="#c00000" stroke="#404040" stroke-width="0.4"/>
<rect x="327.39" y="162.80" width="2.3" height="3.00" fill="#c00000" stroke="#404040" stroke-width="0.4"/>
<rect x="331.44" y="164.60" width="2.3" height="1.60" fill="#10b010" stroke="#404040" stroke-width="0.4"/>
<rect x="335.49" y="158.20" width="2.3" height="7.00" fill="#10b010" stroke="#404040" stroke-width="0.4"/>
<rect x="339.53" y="158.20" width="2.3" height="3.50" fill="#c00000" stroke="#404040" stroke-width="0.4"/>
<rect x="343.58" y="160.40" width="2.3" height="1.30" fill="#10b010" stroke="#404040" stroke-width="0.4"/>
<rect x="347.63" y="160.40" width="2.3" height="2.10" fill="#10b010" stroke="#404040" stroke-width="0.4"/>
<rect x="351.68" y="160.00" width="2.3" height="3.40" fill="#10b010" stroke="#404040" stroke-width="0.4"/>
<rect x="355.73" y="160.00" width="2.3" height="5.70" fill="#c00000" stroke="#404040" stroke-width="0.4"/>
<rect x="359.77" y="165.70" width="2.3" height="3.80" fill="#c00000" stroke="#404040" stroke-width="0.4"/>
<rect x="363.82" y="168.70" width="2.3" height="1.70" fill="#c00000" stroke="#404040" stroke-width="0.4"/>
<rect x="367.87" y="167.50" width="2.3" height="2.90" fill="#10b010" stroke="#404040" stroke-width="0.4"/>
<rect x="371.92" y="165.70" width="2.3" height="4.70" fill="#10b010" stroke="#404040" stroke-width="0.4"/>
<rect x="375.97" y="165.70" width="2.3" height="6.50" fill="#c00000" stroke="#404040" stroke-width="0.4"/>
<rect x="380.01" y="171.30" width="2.3" height="2.10" fill="#c00000" stroke="#404040" stroke-width="0.4"/>
<rect x="384.06" y="171.00" width="2.3" height="2.00" fill="#10b010" stroke="#404040" stroke-width="0.4"/>
<rect x="388.11" y="167.80" width="2.3" height="3.80" fill="#10b010" stroke="#404040" stroke-width="0.4"/>
<rect x="392.16" y="165.20" width="2.3" height="3.00" fill="#10b010" stroke="#404040" stroke-width="0.4"/>
<rect x="396.21" y="155.90" width="2.3" height="11.00" fill="#10b010" stroke="#404040" stroke-width="0.4"/>
<rect x="400.25" y="155.90" width="2.3" height="7.00" fill="#c00000" stroke="#404040" stroke-width="0.4"/>
<rect x="404.30" y="151.20" width="2.3" height="11.70" fill="#10b010" stroke="#404040" stroke-width="0.4"/>
<rect x="408.35" y="143.60" width="2.3" height="7.60" fill="#10b010" stroke="#404040" stroke-width="0.4"/>
<rect x="412.40" y="143.60" width="2.3" height="7.90" fill="#c00000" stroke="#404040" stroke-width="0.4"/>
<rect x="416.45" y="147.70" width="2.3" height="3.80" fill="#10b010" stroke="#404040" stroke-width="0.4"/>
<rect x="420.49" y="148.90" width="2.3" height="5.80" fill="#c00000" stroke="#404040" stroke-width="0.4"/>
<rect x="424.54" y="155.00" width="2.3" height="6.20" fill="#c00000" stroke="#404040" stroke-width="0.4"/>
<rect x="428.59" y="161.20" width="2.3" height="2.60" fill="#c00000" stroke="#404040" stroke-width="0.4"/>
<rect x="432.64" y="156.40" width="2.3" height="7.00" fill="#10b010" stroke="#404040" stroke-width="0.4"/>
<rect x="436.69" y="153.30" width="2.3" height="3.50" fill="#10b010" stroke="#404040" stroke-width="0.4"/>
<rect x="440.73" y="152.90" width="2.3" height="3.00" fill="#c00000" stroke="#404040" stroke-width="0.4"/>
<rect x="444.78" y="152.90" width="2.3" height="5.30" fill="#c00000" stroke="#404040" stroke-width="0.4"/>
<rect x="448.83" y="156.95" width="2.3" height="1.20" fill="#555555" stroke="#404040" stroke-width="0.4"/>
<rect x="452.88" y="157.10" width="2.3" height="3.50" fill="#c00000" stroke="#404040" stroke-width="0.4"/>
<rect x="456.93" y="160.30" width="2.3" height="1.20" fill="#555555" stroke="#404040" stroke-width="0.4"/>
<rect x="460.97" y="156.50" width="2.3" height="3.00" fill="#10b010" stroke="#404040" stroke-width="0.4"/>
<rect x="465.02" y="156.50" width="2.3" height="4.00" fill="#c00000" stroke="#404040" stroke-width="0.4"/>
<rect x="469.07" y="159.50" width="2.3" height="1.60" fill="#10b010" stroke="#404040" stroke-width="0.4"/>
<rect x="473.12" y="159.20" width="2.3" height="3.00" fill="#c00000" stroke="#404040" stroke-width="0.4"/>
<rect x="477.17" y="159.80" width="2.3" height="2.00" fill="#10b010" stroke="#404040" stroke-width="0.4"/>
<rect x="481.21" y="156.50" width="2.3" height="2.30" fill="#10b010" stroke="#404040" stroke-width="0.4"/>
<rect x="485.26" y="158.00" width="2.3" height="4.60" fill="#c00000" stroke="#404040" stroke-width="0.4"/>
<rect x="489.31" y="160.00" width="2.3" height="3.40" fill="#c00000" stroke="#404040" stroke-width="0.4"/>
<rect x="493.36" y="161.80" width="2.3" height="1.20" fill="#c00000" stroke="#404040" stroke-width="0.4"/>
<rect x="497.41" y="161.80" width="2.3" height="1.20" fill="#10b010" stroke="#404040" stroke-width="0.4"/>
<rect x="501.45" y="159.20" width="2.3" height="4.60" fill="#c00000" stroke="#404040" stroke-width="0.4"/>
<rect x="505.50" y="163.00" width="2.3" height="3.80" fill="#c00000" stroke="#404040" stroke-width="0.4"/>
<rect x="509.55" y="165.70" width="2.3" height="5.70" fill="#c00000" stroke="#404040" stroke-width="0.4"/>
<rect x="513.60" y="169.50" width="2.3" height="1.20" fill="#10b010" stroke="#404040" stroke-width="0.4"/>
<rect x="517.65" y="169.80" width="2.3" height="1.30" fill="#c00000" stroke="#404040" stroke-width="0.4"/>
<rect x="521.69" y="170.60" width="2.3" height="1.60" fill="#c00000" stroke="#404040" stroke-width="0.4"/>
<rect x="525.74" y="165.70" width="2.3" height="6.00" fill="#10b010" stroke="#404040" stroke-width="0.4"/>
<rect x="529.79" y="163.50" width="2.3" height="3.30" fill="#10b010" stroke="#404040" stroke-width="0.4"/>
<rect x="533.84" y="163.00" width="2.3" height="2.70" fill="#c00000" stroke="#404040" stroke-width="0.4"/>
<rect x="537.89" y="165.10" width="2.3" height="2.80" fill="#c00000" stroke="#404040" stroke-width="0.4"/>
<rect x="541.93" y="167.40" width="2.3" height="1.20" fill="#555555" stroke="#404040" stroke-width="0.4"/>
<rect x="545.98" y="169.00" width="2.3" height="1.60" fill="#c00000" stroke="#404040" stroke-width="0.4"/>
<rect x="550.03" y="166.20" width="2.3" height="3.60" fill="#10b010" stroke="#404040" stroke-width="0.4"/>
<rect x="554.08" y="162.40" width="2.3" height="5.50" fill="#10b010" stroke="#404040" stroke-width="0.4"/>
<rect x="558.13" y="153.00" width="2.3" height="8.30" fill="#10b010" stroke="#404040" stroke-width="0.4"/>
<rect x="562.17" y="153.00" width="2.3" height="5.50" fill="#c00000" stroke="#404040" stroke-width="0.4"/>
<rect x="566.22" y="154.20" width="2.3" height="4.10" fill="#10b010" stroke="#404040" stroke-width="0.4"/>
<rect x="570.27" y="154.20" width="2.3" height="4.80" fill="#c00000" stroke="#404040" stroke-width="0.4"/>
<rect x="574.32" y="155.00" width="2.3" height="3.60" fill="#10b010" stroke="#404040" stroke-width="0.4"/>
<rect x="578.37" y="154.50" width="2.3" height="2.30" fill="#10b010" stroke="#404040" stroke-width="0.4"/>
<rect x="582.41" y="155.20" width="2.3" height="5.40" fill="#c00000" stroke="#404040" stroke-width="0.4"/>
<rect x="586.46" y="161.30" width="2.3" height="10.70" fill="#c00000" stroke="#404040" stroke-width="0.4"/>
<rect x="590.51" y="167.50" width="2.3" height="4.50" fill="#10b010" stroke="#404040" stroke-width="0.4"/>
<rect x="594.56" y="153.00" width="2.3" height="16.00" fill="#10b010" stroke="#404040" stroke-width="0.4"/>
<rect x="598.61" y="151.20" width="2.3" height="2.00" fill="#c00000" stroke="#404040" stroke-width="0.4"/>
<rect x="602.65" y="124.40" width="2.3" height="25.60" fill="#10b010" stroke="#404040" stroke-width="0.4"/>
<rect x="606.70" y="107.70" width="2.3" height="16.40" fill="#10b010" stroke="#404040" stroke-width="0.4"/>
<rect x="610.75" y="103.80" width="2.3" height="26.20" fill="#c00000" stroke="#404040" stroke-width="0.4"/>
<rect x="614.80" y="128.30" width="2.3" height="1.70" fill="#10b010" stroke="#404040" stroke-width="0.4"/>
<rect x="618.85" y="129.10" width="2.3" height="4.50" fill="#c00000" stroke="#404040" stroke-width="0.4"/>
<rect x="622.89" y="115.60" width="2.3" height="17.70" fill="#10b010" stroke="#404040" stroke-width="0.4"/>
<rect x="626.94" y="113.40" width="2.3" height="1.50" fill="#10b010" stroke="#404040" stroke-width="0.4"/>
<rect x="630.99" y="107.00" width="2.3" height="8.20" fill="#c00000" stroke="#404040" stroke-width="0.4"/>
<rect x="635.04" y="114.30" width="2.3" height="10.50" fill="#c00000" stroke="#404040" stroke-width="0.4"/>
<rect x="639.09" y="118.20" width="2.3" height="7.00" fill="#10b010" stroke="#404040" stroke-width="0.4"/>
<rect x="643.13" y="109.00" width="2.3" height="9.20" fill="#10b010" stroke="#404040" stroke-width="0.4"/>
<rect x="647.18" y="109.00" width="2.3" height="7.90" fill="#c00000" stroke="#404040" stroke-width="0.4"/>
<rect x="651.23" y="117.00" width="2.3" height="3.60" fill="#c00000" stroke="#404040" stroke-width="0.4"/>
<rect x="655.28" y="119.90" width="2.3" height="10.00" fill="#c00000" stroke="#404040" stroke-width="0.4"/>
<rect x="659.33" y="128.40" width="2.3" height="7.10" fill="#c00000" stroke="#404040" stroke-width="0.4"/>
<rect x="663.37" y="127.70" width="2.3" height="7.80" fill="#10b010" stroke="#404040" stroke-width="0.4"/>
<rect x="667.42" y="128.40" width="2.3" height="4.30" fill="#c00000" stroke="#404040" stroke-width="0.4"/>
<rect x="671.47" y="130.60" width="2.3" height="2.50" fill="#10b010" stroke="#404040" stroke-width="0.4"/>
<rect x="675.52" y="129.90" width="2.3" height="4.20" fill="#c00000" stroke="#404040" stroke-width="0.4"/>
<line x1="690.8" y1="161.2" x2="681.8" y2="145.6" stroke="#333" stroke-width="0.8"/>
<polygon points="680.3,143.1 684.5,147.6 681.0,149.2" fill="#222"/>
<text transform="translate(642.30,172.5) scale(0.84,1)" x="0.40 7.50 14.59 21.69 30.50 35.88 43.25 51.21 55.73 65.97 71.06 78.45 85.54 92.64 99.74 107.97 115.36" y="0" font-family="'Liberation Sans', sans-serif" font-size="10.3" font-weight="bold" fill="#1a1a1a" xml:space="preserve">Long Term Support</text>
<text transform="translate(642.30,181.5) scale(0.84,1)" x="0.68 7.78 14.87 23.40 29.06 36.16" y="0" font-family="'Liberation Sans', sans-serif" font-size="10.3" font-weight="bold" fill="#1a1a1a" xml:space="preserve">$21.42</text>
<text transform="translate(4.40,8.65) scale(0.88,1)" x="-0.49 4.75 10.38 13.93 18.48 24.01 27.57 32.12 36.66" y="0" font-family="'Liberation Sans', sans-serif" font-size="7.1" font-weight="normal" fill="#262626" xml:space="preserve">O= 22.790</text>
<text transform="translate(4.40,14.75) scale(0.88,1)" x="-0.29 4.75 10.38 13.93 18.48 24.01 27.57 32.12 36.66" y="0" font-family="'Liberation Sans', sans-serif" font-size="7.1" font-weight="normal" fill="#262626" xml:space="preserve">H= 22.830</text>
<text transform="translate(4.40,20.85) scale(0.88,1)" x="0.30 4.75 10.38 13.93 18.48 24.01 27.57 32.12 36.66" y="0" font-family="'Liberation Sans', sans-serif" font-size="7.1" font-weight="normal" fill="#262626" xml:space="preserve">L= 22.150</text>
<text transform="translate(4.40,26.949999999999996) scale(0.88,1)" x="0.30 4.75 10.38 13.93 18.48 24.01 27.57 32.12 36.66" y="0" font-family="'Liberation Sans', sans-serif" font-size="7.1" font-weight="normal" fill="#262626" xml:space="preserve">L= 22.335</text>
<text transform="translate(4.40,33.05) scale(0.88,1)" x="-0.10 4.75 10.38 14.73 18.48 24.01 27.57 32.12 36.66" y="0" font-family="'Liberation Sans', sans-serif" font-size="7.1" font-weight="normal" fill="#262626" xml:space="preserve">Δ= -0.341</text>
<rect x="45.5" y="4" width="2.2" height="22" fill="#d00000"/>
<rect x="45.5" y="26" width="2.2" height="8" fill="#108010"/>
<rect x="45.5" y="4" width="2.2" height="1.5" fill="#a0c020"/>
<text transform="translate(5.60,212.3) scale(0.88,1)" x="-0.26 4.93 8.55 13.15 18.74 23.34 29.13 33.53 37.34 42.74 45.96 51.15 55.75 60.16 64.76 69.36 73.96 78.57 84.16 87.38 92.37 98.16" y="0" font-family="'Liberation Sans', sans-serif" font-size="7.1" font-weight="normal" fill="#262626" xml:space="preserve">Commodity Exchange Vol</text>
<rect x="3.20" y="236.40" width="3.0" height="5.50" fill="#111"/>
<rect x="7.25" y="236.75" width="3.0" height="5.15" fill="#111"/>
<rect x="11.30" y="237.60" width="3.0" height="4.30" fill="#111"/>
<rect x="15.34" y="237.00" width="3.0" height="4.90" fill="#111"/>
<rect x="19.39" y="236.75" width="3.0" height="5.15" fill="#111"/>
<rect x="23.44" y="236.40" width="3.0" height="5.50" fill="#111"/>
<rect x="27.49" y="236.75" width="3.0" height="5.15" fill="#111"/>
<rect x="31.54" y="238.00" width="3.0" height="3.90" fill="#111"/>
<rect x="35.58" y="238.30" width="3.0" height="3.60" fill="#111"/>
<rect x="39.63" y="239.00" width="3.0" height="2.90" fill="#111"/>
<rect x="43.68" y="239.00" width="3.0" height="2.90" fill="#111"/>
<rect x="47.73" y="237.60" width="3.0" height="4.30" fill="#111"/>
<rect x="51.78" y="238.50" width="3.0" height="3.40" fill="#111"/>
<rect x="55.82" y="239.00" width="3.0" height="2.90" fill="#111"/>
<rect x="59.87" y="238.90" width="3.0" height="3.00" fill="#111"/>
<rect x="63.92" y="237.00" width="3.0" height="4.90" fill="#111"/>
<rect x="67.97" y="238.00" width="3.0" height="3.90" fill="#111"/>
<rect x="72.02" y="237.00" width="3.0" height="4.90" fill="#111"/>
<rect x="76.06" y="237.60" width="3.0" height="4.30" fill="#111"/>
<rect x="80.11" y="237.00" width="3.0" height="4.90" fill="#111"/>
<rect x="84.16" y="234.75" width="3.0" height="7.15" fill="#111"/>
<rect x="88.21" y="236.00" width="3.0" height="5.90" fill="#111"/>
<rect x="92.26" y="236.40" width="3.0" height="5.50" fill="#111"/>
<rect x="96.30" y="235.10" width="3.0" height="6.80" fill="#111"/>
<rect x="100.35" y="237.00" width="3.0" height="4.90" fill="#111"/>
<rect x="104.40" y="235.10" width="3.0" height="6.80" fill="#111"/>
<rect x="108.45" y="235.75" width="3.0" height="6.15" fill="#111"/>
<rect x="112.50" y="235.10" width="3.0" height="6.80" fill="#111"/>
<rect x="116.54" y="238.00" width="3.0" height="3.90" fill="#111"/>
<rect x="120.59" y="235.75" width="3.0" height="6.15" fill="#111"/>
<rect x="124.64" y="237.00" width="3.0" height="4.90" fill="#111"/>
<rect x="128.69" y="233.00" width="3.0" height="8.90" fill="#111"/>
<rect x="132.74" y="227.00" width="3.0" height="14.90" fill="#111"/>
<rect x="136.78" y="233.90" width="3.0" height="8.00" fill="#111"/>
<rect x="140.83" y="232.60" width="3.0" height="9.30" fill="#111"/>
<rect x="144.88" y="230.50" width="3.0" height="11.40" fill="#111"/>
<rect x="148.93" y="230.50" width="3.0" height="11.40" fill="#111"/>
<rect x="152.98" y="222.60" width="3.0" height="19.30" fill="#111"/>
<rect x="157.02" y="226.00" width="3.0" height="15.90" fill="#111"/>
<rect x="161.07" y="230.50" width="3.0" height="11.40" fill="#111"/>
<rect x="165.12" y="233.00" width="3.0" height="8.90" fill="#111"/>
<rect x="169.17" y="228.90" width="3.0" height="13.00" fill="#111"/>
<rect x="173.22" y="233.90" width="3.0" height="8.00" fill="#111"/>
<rect x="177.26" y="235.75" width="3.0" height="6.15" fill="#111"/>
<rect x="181.31" y="233.00" width="3.0" height="8.90" fill="#111"/>
<rect x="185.36" y="237.00" width="3.0" height="4.90" fill="#111"/>
<rect x="189.41" y="235.50" width="3.0" height="6.40" fill="#111"/>
<rect x="193.46" y="231.40" width="3.0" height="10.50" fill="#111"/>
<rect x="197.50" y="233.90" width="3.0" height="8.00" fill="#111"/>
<rect x="201.55" y="233.25" width="3.0" height="8.65" fill="#111"/>
<rect x="205.60" y="234.50" width="3.0" height="7.40" fill="#111"/>
<rect x="209.65" y="231.75" width="3.0" height="10.15" fill="#111"/>
<rect x="213.70" y="236.00" width="3.0" height="5.90" fill="#111"/>
<rect x="217.74" y="233.50" width="3.0" height="8.40" fill="#111"/>
<rect x="221.79" y="233.90" width="3.0" height="8.00" fill="#111"/>
<rect x="225.84" y="235.75" width="3.0" height="6.15" fill="#111"/>
<rect x="229.89" y="231.40" width="3.0" height="10.50" fill="#111"/>
<rect x="233.94" y="236.00" width="3.0" height="5.90" fill="#111"/>
<rect x="237.98" y="234.50" width="3.0" height="7.40" fill="#111"/>
<rect x="242.03" y="231.75" width="3.0" height="10.15" fill="#111"/>
<rect x="246.08" y="236.00" width="3.0" height="5.90" fill="#111"/>
<rect x="250.13" y="228.25" width="3.0" height="13.65" fill="#111"/>
<rect x="254.18" y="233.90" width="3.0" height="8.00" fill="#111"/>
<rect x="258.22" y="231.00" width="3.0" height="10.90" fill="#111"/>
<rect x="262.27" y="235.10" width="3.0" height="6.80" fill="#111"/>
<rect x="266.32" y="230.50" width="3.0" height="11.40" fill="#111"/>
<rect x="270.37" y="235.10" width="3.0" height="6.80" fill="#111"/>
<rect x="274.42" y="235.10" width="3.0" height="6.80" fill="#111"/>
<rect x="278.46" y="232.25" width="3.0" height="9.65" fill="#111"/>
<rect x="282.51" y="236.00" width="3.0" height="5.90" fill="#111"/>
<rect x="286.56" y="235.10" width="3.0" height="6.80" fill="#111"/>
<rect x="290.61" y="231.40" width="3.0" height="10.50" fill="#111"/>
<rect x="294.66" y="235.10" width="3.0" height="6.80" fill="#111"/>
<rect x="298.70" y="232.60" width="3.0" height="9.30" fill="#111"/>
<rect x="302.75" y="235.75" width="3.0" height="6.15" fill="#111"/>
<rect x="306.80" y="232.00" width="3.0" height="9.90" fill="#111"/>
<rect x="310.85" y="235.10" width="3.0" height="6.80" fill="#111"/>
<rect x="314.90" y="233.50" width="3.0" height="8.40" fill="#111"/>
<rect x="318.94" y="234.75" width="3.0" height="7.15" fill="#111"/>
<rect x="322.99" y="234.75" width="3.0" height="7.15" fill="#111"/>
<rect x="327.04" y="231.40" width="3.0" height="10.50" fill="#111"/>
<rect x="331.09" y="235.10" width="3.0" height="6.80" fill="#111"/>
<rect x="335.14" y="235.10" width="3.0" height="6.80" fill="#111"/>
<rect x="339.18" y="233.50" width="3.0" height="8.40" fill="#111"/>
<rect x="343.23" y="235.75" width="3.0" height="6.15" fill="#111"/>
<rect x="347.28" y="232.00" width="3.0" height="9.90" fill="#111"/>
<rect x="351.33" y="235.75" width="3.0" height="6.15" fill="#111"/>
<rect x="355.38" y="231.40" width="3.0" height="10.50" fill="#111"/>
<rect x="359.42" y="235.10" width="3.0" height="6.80" fill="#111"/>
<rect x="363.47" y="231.40" width="3.0" height="10.50" fill="#111"/>
<rect x="367.52" y="236.00" width="3.0" height="5.90" fill="#111"/>
<rect x="371.57" y="233.90" width="3.0" height="8.00" fill="#111"/>
<rect x="375.62" y="233.00" width="3.0" height="8.90" fill="#111"/>
<rect x="379.66" y="235.75" width="3.0" height="6.15" fill="#111"/>
<rect x="383.71" y="235.10" width="3.0" height="6.80" fill="#111"/>
<rect x="387.76" y="230.50" width="3.0" height="11.40" fill="#111"/>
<rect x="391.81" y="233.90" width="3.0" height="8.00" fill="#111"/>
<rect x="395.86" y="228.25" width="3.0" height="13.65" fill="#111"/>
<rect x="399.90" y="233.90" width="3.0" height="8.00" fill="#111"/>
<rect x="403.95" y="229.25" width="3.0" height="12.65" fill="#111"/>
<rect x="408.00" y="232.00" width="3.0" height="9.90" fill="#111"/>
<rect x="412.05" y="228.25" width="3.0" height="13.65" fill="#111"/>
<rect x="416.10" y="233.25" width="3.0" height="8.65" fill="#111"/>
<rect x="420.14" y="232.60" width="3.0" height="9.30" fill="#111"/>
<rect x="424.19" y="227.00" width="3.0" height="14.90" fill="#111"/>
<rect x="428.24" y="234.25" width="3.0" height="7.65" fill="#111"/>
<rect x="432.29" y="232.00" width="3.0" height="9.90" fill="#111"/>
<rect x="436.34" y="229.50" width="3.0" height="12.40" fill="#111"/>
<rect x="440.38" y="231.75" width="3.0" height="10.15" fill="#111"/>
<rect x="444.43" y="227.60" width="3.0" height="14.30" fill="#111"/>
<rect x="448.48" y="229.25" width="3.0" height="12.65" fill="#111"/>
<rect x="452.53" y="226.00" width="3.0" height="15.90" fill="#111"/>
<rect x="456.58" y="229.75" width="3.0" height="12.15" fill="#111"/>
<rect x="460.62" y="223.50" width="3.0" height="18.40" fill="#111"/>
<rect x="464.67" y="230.75" width="3.0" height="11.15" fill="#111"/>
<rect x="468.72" y="229.50" width="3.0" height="12.40" fill="#111"/>
<rect x="472.77" y="225.10" width="3.0" height="16.80" fill="#111"/>
<rect x="476.82" y="233.00" width="3.0" height="8.90" fill="#111"/>
<rect x="480.86" y="227.00" width="3.0" height="14.90" fill="#111"/>
<rect x="484.91" y="227.60" width="3.0" height="14.30" fill="#111"/>
<rect x="488.96" y="229.75" width="3.0" height="12.15" fill="#111"/>
<rect x="493.01" y="224.10" width="3.0" height="17.80" fill="#111"/>
<rect x="497.06" y="230.10" width="3.0" height="11.80" fill="#111"/>
<rect x="501.10" y="225.10" width="3.0" height="16.80" fill="#111"/>
<rect x="505.15" y="231.10" width="3.0" height="10.80" fill="#111"/>
<rect x="509.20" y="226.10" width="3.0" height="15.80" fill="#111"/>
<rect x="513.25" y="230.75" width="3.0" height="11.15" fill="#111"/>
<rect x="517.30" y="229.50" width="3.0" height="12.40" fill="#111"/>
<rect x="521.34" y="226.75" width="3.0" height="15.15" fill="#111"/>
<rect x="525.39" y="233.25" width="3.0" height="8.65" fill="#111"/>
<rect x="529.44" y="231.75" width="3.0" height="10.15" fill="#111"/>
<rect x="533.49" y="229.50" width="3.0" height="12.40" fill="#111"/>
<rect x="537.54" y="232.00" width="3.0" height="9.90" fill="#111"/>
<rect x="541.58" y="229.10" width="3.0" height="12.80" fill="#111"/>
<rect x="545.63" y="231.75" width="3.0" height="10.15" fill="#111"/>
<rect x="549.68" y="224.10" width="3.0" height="17.80" fill="#111"/>
<rect x="553.73" y="227.60" width="3.0" height="14.30" fill="#111"/>
<rect x="557.78" y="221.40" width="3.0" height="20.50" fill="#111"/>
<rect x="561.82" y="224.50" width="3.0" height="17.40" fill="#111"/>
<rect x="565.87" y="229.75" width="3.0" height="12.15" fill="#111"/>
<rect x="569.92" y="226.00" width="3.0" height="15.90" fill="#111"/>
<rect x="573.97" y="231.70" width="3.0" height="10.20" fill="#111"/>
<rect x="578.02" y="227.90" width="3.0" height="14.00" fill="#111"/>
<rect x="582.06" y="224.90" width="3.0" height="17.00" fill="#111"/>
<rect x="586.11" y="226.70" width="3.0" height="15.20" fill="#111"/>
<rect x="590.16" y="232.40" width="3.0" height="9.50" fill="#111"/>
<rect x="594.21" y="233.80" width="3.0" height="8.10" fill="#111"/>
<rect x="598.26" y="229.40" width="3.0" height="12.50" fill="#111"/>
<rect x="602.30" y="224.50" width="3.0" height="17.40" fill="#111"/>
<rect x="606.35" y="211.00" width="3.0" height="30.90" fill="#111"/>
<rect x="610.40" y="227.20" width="3.0" height="14.70" fill="#111"/>
<rect x="614.45" y="230.80" width="3.0" height="11.10" fill="#111"/>
<rect x="618.50" y="227.50" width="3.0" height="14.40" fill="#111"/>
<rect x="622.54" y="230.80" width="3.0" height="11.10" fill="#111"/>
<rect x="626.59" y="228.20" width="3.0" height="13.70" fill="#111"/>
<rect x="630.64" y="224.50" width="3.0" height="17.40" fill="#111"/>
<rect x="634.69" y="231.20" width="3.0" height="10.70" fill="#111"/>
<rect x="638.74" y="230.20" width="3.0" height="11.70" fill="#111"/>
<rect x="642.78" y="231.70" width="3.0" height="10.20" fill="#111"/>
<rect x="646.83" y="228.50" width="3.0" height="13.40" fill="#111"/>
<rect x="650.88" y="233.20" width="3.0" height="8.70" fill="#111"/>
<rect x="654.93" y="230.50" width="3.0" height="11.40" fill="#111"/>
<rect x="658.98" y="234.20" width="3.0" height="7.70" fill="#111"/>
<rect x="663.02" y="233.50" width="3.0" height="8.40" fill="#111"/>
<rect x="667.07" y="229.00" width="3.0" height="12.90" fill="#111"/>
<rect x="671.12" y="235.00" width="3.0" height="6.90" fill="#111"/>
<rect x="675.17" y="233.20" width="3.0" height="8.70" fill="#111"/>
<rect x="3.5" y="239.5" width="54" height="7" fill="#fff" stroke="#b0b0b0" stroke-width="0.8"/>
<text transform="translate(4.50,245.0) scale(0.88,1)" x="-0.07 4.93 10.72 14.03" y="0" font-family="'Liberation Sans', sans-serif" font-size="7.1" font-weight="normal" fill="#262626" xml:space="preserve">Vol=</text>
<text transform="translate(28.85,245.0) scale(0.88,1)" x="0.33 4.93 9.53 14.13 18.74 23.34 27.94" y="0" font-family="'Liberation Sans', sans-serif" font-size="7.1" font-weight="normal" fill="#262626" xml:space="preserve">1242359</text>
<line x1="4" y1="262.4" x2="757" y2="262.4" stroke="#ffb0b0" stroke-width="0.8"/>
<line x1="4" y1="296.9" x2="757" y2="296.9" stroke="#c8c8ff" stroke-width="0.8"/>
<polyline points="4.50,263.75 10.00,267.00 20.00,270.00 25.00,275.00 32.50,283.75 40.00,289.50 45.00,291.25 52.50,290.00 60.00,287.50 67.50,282.50 75.00,276.25 82.50,271.25 87.50,268.00 95.00,267.50 102.50,267.00 110.00,265.50 117.50,265.00 125.00,262.00 132.50,258.75 140.00,256.75 147.50,255.00 153.75,254.50 160.00,258.00 167.50,263.00 172.50,266.25 180.00,275.00 187.50,283.00 193.75,287.00 202.50,288.00 210.00,292.00 216.25,294.50 222.50,291.25 230.00,285.75 235.00,283.75 241.25,281.25 247.50,283.75 255.00,288.75 262.50,293.75 267.50,295.75 275.00,296.25 282.50,297.00 290.00,297.50 297.50,296.50 305.00,297.50 312.50,295.50 320.00,296.75 327.50,298.75 335.00,297.50 342.50,294.50 350.00,292.50 357.50,291.25 365.00,292.50 372.50,293.75 380.00,295.50 387.50,297.50 390.00,296.25 395.00,290.00 401.25,283.75 407.50,273.75 413.75,270.00 420.00,268.75 425.00,271.25 431.25,276.25 437.50,278.75 443.75,280.00 450.00,283.00 457.50,285.75 465.00,284.50 472.50,283.75 480.00,283.25 487.50,282.00 495.00,283.00 502.50,285.75 510.00,290.50 517.50,294.50 523.75,297.00 530.00,292.50 537.50,288.75 545.00,287.00 552.50,283.00 560.00,276.25 567.50,272.50 575.00,271.50 581.25,270.75 586.25,273.75 592.00,277.50 597.50,275.00 603.75,270.00 610.00,265.75 616.25,265.50 622.50,267.00 628.75,264.50 635.00,266.25 642.50,267.00 648.75,269.50 655.00,274.50 660.00,279.50 666.25,284.50 671.25,287.50 676.25,290.50" fill="none" stroke="#ff2020" stroke-width="1.3" stroke-linejoin="round"/>
<polyline points="4.50,263.75 10.00,268.75 15.00,271.25 20.00,272.50 25.00,280.00 28.75,286.25 32.50,292.50 36.00,297.00 40.00,296.00 43.75,292.50 48.75,289.50 53.75,287.50 57.50,288.00 61.25,280.00 67.50,276.25 72.50,272.50 77.50,266.25 81.25,265.50 85.50,262.00 91.25,265.50 97.50,269.25 102.50,267.50 107.50,264.25 112.50,263.75 117.50,265.50 122.50,261.25 130.00,256.25 137.50,253.75 142.50,257.00 150.00,254.25 154.50,254.50 158.75,260.00 162.50,268.00 167.50,268.75 171.25,270.00 175.00,277.50 180.00,282.00 186.25,290.50 191.25,291.25 195.00,290.00 200.00,289.50 205.00,291.25 211.25,297.00 215.00,297.00 218.75,292.50 222.50,285.00 226.25,282.50 231.25,279.25 235.00,280.00 239.50,278.25 243.75,282.50 248.75,287.50 255.00,295.00 260.00,298.75 263.75,300.00 268.75,296.25 275.00,295.50 281.25,297.00 287.50,298.75 293.75,295.50 298.75,296.25 303.75,300.00 308.75,295.50 312.50,293.25 316.25,293.75 320.00,297.50 325.00,300.00 328.75,302.00 333.75,298.75 337.50,294.50 343.75,291.50 348.75,291.25 353.75,289.50 358.75,291.25 363.75,293.75 368.75,296.25 372.50,293.75 377.50,296.25 382.50,299.50 387.50,298.75 391.25,295.00 393.75,291.25 397.50,277.50 401.25,277.00 405.00,267.50 409.50,262.50 413.75,264.50 417.50,265.00 422.50,270.00 426.25,276.25 430.00,282.00 435.00,282.50 441.25,281.25 446.25,284.50 451.25,287.00 455.00,288.75 458.75,287.50 462.50,283.75 470.00,283.00 475.00,284.25 478.75,282.50 482.50,279.25 487.50,281.25 492.50,283.00 497.50,285.00 502.50,288.75 507.50,293.75 511.25,297.50 515.00,297.00 518.75,298.75 522.50,300.50 526.25,293.75 531.25,285.50 535.00,283.75 538.75,285.00 542.50,284.50 547.50,286.25 551.25,282.50 555.00,272.50 559.50,265.00 563.75,270.00 567.50,268.75 571.25,272.00 575.00,271.25 579.50,269.50 583.75,273.75 588.00,281.25 591.25,282.00 596.25,272.50 601.25,265.00 604.50,261.25 607.50,259.25 612.50,264.50 620.00,269.25 625.00,266.25 629.50,264.25 632.50,264.50 636.25,267.50 640.00,268.75 643.75,268.00 648.75,271.25 653.75,276.25 657.50,282.00 661.25,287.50 665.00,288.75 668.75,292.00 672.50,292.00 676.25,294.50" fill="none" stroke="#2020ff" stroke-width="1.2" stroke-linejoin="round"/>
<text transform="translate(5.60,254.5) scale(0.88,1)" x="-0.07 4.54 10.52 14.13 18.94 23.34" y="0" font-family="'Liberation Sans', sans-serif" font-size="7.1" font-weight="normal" fill="#262626" xml:space="preserve">SStoch</text>
<rect x="3.5" y="293.4" width="58.4" height="14.6" fill="#fff" stroke="#b0b0b0" stroke-width="0.8"/>
<text transform="translate(4.50,299.75) scale(0.88,1)" x="-0.07 4.54 9.14 14.03" y="0" font-family="'Liberation Sans', sans-serif" font-size="7.1" font-weight="normal" fill="#262626" xml:space="preserve">SSK=</text>
<text transform="translate(41.15,299.75) scale(0.88,1)" x="0.33 4.93 10.52 14.13 18.74" y="0" font-family="'Liberation Sans', sans-serif" font-size="7.1" font-weight="normal" fill="#262626" xml:space="preserve">22.85</text>
<text transform="translate(4.50,305.75) scale(0.88,1)" x="-0.07 4.54 8.94 14.03" y="0" font-family="'Liberation Sans', sans-serif" font-size="7.1" font-weight="normal" fill="#262626" xml:space="preserve">SSD=</text>
<text transform="translate(41.15,305.75) scale(0.88,1)" x="0.33 4.93 10.52 14.13 18.74" y="0" font-family="'Liberation Sans', sans-serif" font-size="7.1" font-weight="normal" fill="#262626" xml:space="preserve">31.19</text>
<polyline points="4.50,350.75 10.00,350.00 15.00,350.50 20.00,349.50 25.00,347.50 30.00,347.00 33.75,345.00 37.50,345.00 42.50,346.25 47.50,347.50 55.00,348.00 61.25,347.00 67.50,348.75 73.75,350.75 80.00,350.75 87.50,350.50 96.25,349.50 102.50,351.25 111.25,350.75 117.50,351.25 125.00,351.75 132.50,350.75 138.75,349.50 143.75,347.00 147.50,344.50 151.25,343.75 155.00,337.50 158.75,330.50 163.75,328.00 168.75,324.50 172.50,322.00 175.00,317.50 178.75,315.75 185.00,315.50 190.50,314.50 195.00,318.75 199.50,324.50 205.00,326.25 211.25,329.50 215.00,337.00 220.00,338.75 227.50,341.25 235.00,342.50 243.75,343.00 247.50,344.50 252.50,343.00 260.00,342.50 263.75,343.00 267.50,342.00 275.00,343.00 280.00,343.75 283.75,345.00 287.50,344.50 292.50,347.00 297.50,347.50 302.50,349.50 306.25,350.50 311.25,352.50 317.50,353.00 332.50,353.00 342.50,351.50 355.00,351.25 360.00,352.50 370.00,353.25 380.00,354.50 390.00,355.00 393.75,355.50 400.00,353.75 410.00,352.50 418.75,352.00 425.00,350.75 433.75,350.75 440.00,351.50 447.50,353.00 457.50,353.75 467.50,354.50 475.00,355.50 485.00,355.50 497.50,356.75 507.50,356.75 517.50,357.50 540.00,357.50 546.25,358.25 553.75,358.25 562.50,356.25 570.00,355.75 579.50,354.50 588.50,350.60 596.00,348.80 599.00,349.40 605.00,345.50 612.50,340.40 620.00,338.60 629.00,338.00 639.60,337.40 645.60,341.00 653.00,344.60 660.60,344.60 669.60,347.00 676.50,348.00" fill="none" stroke="#4040ff" stroke-width="1.2" stroke-linejoin="round"/>
<text transform="translate(5.60,316.0) scale(0.88,1)" x="-0.07 4.73 8.94" y="0" font-family="'Liberation Sans', sans-serif" font-size="7.1" font-weight="normal" fill="#262626" xml:space="preserve">ATR</text>
<rect x="3.5" y="356.5" width="58.4" height="7.5" fill="#fff" stroke="#b0b0b0" stroke-width="0.8"/>
<text transform="translate(4.50,362.4) scale(0.88,1)" x="-0.07 4.73 8.94 14.03" y="0" font-family="'Liberation Sans', sans-serif" font-size="7.1" font-weight="normal" fill="#262626" xml:space="preserve">ATR=</text>
<text transform="translate(33.05,362.4) scale(0.88,1)" x="0.33 5.92 9.53 14.13 18.74 23.34 27.94" y="0" font-family="'Liberation Sans', sans-serif" font-size="7.1" font-weight="normal" fill="#262626" xml:space="preserve">2.81700</text>
<line x1="4" y1="383.5" x2="757" y2="383.5" stroke="#ffb0b0" stroke-width="0.8"/>
<line x1="4" y1="398.3" x2="757" y2="398.3" stroke="#b86088" stroke-width="0.75"/>
<line x1="4" y1="402.2" x2="757" y2="402.2" stroke="#c8c8ff" stroke-width="0.8"/>
<polyline points="4.50,398.00 20.00,397.00 29.00,395.00 32.50,391.60 36.00,395.00 45.00,397.50 55.00,398.50 66.25,398.75 72.50,399.50 80.00,400.50 87.50,402.00 91.25,402.50 97.50,400.00 105.00,400.75 111.25,402.00 120.00,403.00 130.00,404.50 137.50,407.00 142.50,404.50 148.75,406.25 153.75,408.00 158.75,403.75 163.75,404.50 170.00,406.25 175.00,398.25 181.25,399.50 186.25,397.00 192.50,398.75 195.00,399.40 202.50,398.50 210.00,396.25 217.50,397.50 227.50,399.75 236.25,398.75 247.50,399.00 250.00,394.00 255.00,393.25 260.50,391.25 265.00,392.50 271.25,394.50 277.50,394.50 283.75,393.75 290.00,394.50 295.00,395.75 302.50,395.25 310.00,396.50 315.00,395.75 320.00,392.50 325.00,391.25 331.25,390.75 337.50,392.50 343.75,392.50 350.00,393.75 355.00,394.50 361.25,393.25 367.50,393.75 372.50,394.50 381.25,394.50 388.75,396.25 395.00,398.25 403.75,399.50 410.00,402.00 416.25,402.00 422.50,399.00 430.00,399.00 436.25,399.50 443.75,400.00 450.00,397.50 457.50,396.50 465.00,397.75 472.50,398.25 480.00,397.00 490.00,397.75 500.00,397.75 507.50,394.50 515.00,394.00 522.50,394.00 530.00,396.50 537.50,395.75 542.50,395.25 547.00,393.25 552.50,395.75 560.00,400.25 567.50,401.50 575.00,401.50 580.00,402.50 583.75,399.50 587.50,390.00 592.50,392.00 600.00,396.25 606.25,401.50 612.50,400.75 620.00,402.00 627.50,403.25 632.50,404.50 637.50,402.00 643.75,402.50 650.00,403.25 656.25,399.50 662.50,399.50 667.50,400.00 672.50,398.25 677.00,399.50" fill="none" stroke="#ff0000" stroke-width="2.2" stroke-linejoin="round"/>
<polyline points="4.50,383.75 10.00,387.00 17.50,390.00 21.25,388.25 25.00,392.00 30.00,394.00 40.00,395.00 50.00,394.00 61.25,391.25 68.75,393.00 72.50,392.00 77.50,388.25 86.25,388.75 92.50,390.50 97.50,392.50 102.50,392.50 107.50,390.00 111.25,390.00 115.00,392.00 122.50,392.00 127.50,386.25 133.75,378.75 137.50,378.00 142.50,382.50 147.50,381.25 151.25,378.00 154.50,370.50 158.75,380.50 162.50,383.00 170.00,383.00 175.00,389.50 180.00,391.25 186.25,393.75 191.25,395.00 195.00,393.25 205.00,396.50 215.00,397.50 223.00,392.00 232.50,394.50 242.50,397.50 248.75,397.50 256.25,400.00 263.75,401.25 267.50,397.00 275.00,398.25 285.00,399.50 290.00,399.00 293.75,398.25 300.00,399.00 305.00,399.50 312.50,397.50 320.00,399.00 327.50,400.00 332.50,401.50 337.50,400.00 345.00,401.50 352.50,400.75 360.00,402.00 368.75,403.25 372.50,401.50 378.75,402.00 385.00,402.50 390.00,399.50 393.75,400.00 397.50,396.25 403.75,397.50 409.50,392.50 415.00,394.50 422.50,397.00 427.50,399.00 433.75,399.00 437.50,396.50 443.75,398.25 451.25,399.00 457.50,400.00 462.50,397.50 470.00,398.25 477.50,400.00 485.00,399.00 490.00,400.75 497.50,399.00 505.00,399.00 512.50,400.00 517.50,399.50 522.50,401.50 528.75,397.00 535.00,397.00 541.25,399.00 547.50,400.00 553.75,395.75 560.00,388.25 565.00,389.00 570.00,391.50 575.00,394.00 579.50,392.50 583.75,395.75 587.50,399.00 591.25,400.00 596.25,396.50 600.00,396.50 603.75,384.50 607.50,381.50 612.50,387.00 618.75,389.50 625.00,391.50 628.75,392.00 632.50,390.00 637.50,392.00 640.00,393.25 645.00,391.50 650.00,393.25 655.00,395.00 660.00,396.50 665.00,397.50 673.75,397.50 677.50,396.50" fill="none" stroke="#0000ff" stroke-width="2.2" stroke-linejoin="round"/>
<text transform="translate(5.60,372.3) scale(0.88,1)" x="-0.26 3.95 10.52" y="0" font-family="'Liberation Sans', sans-serif" font-size="7.1" font-weight="normal" fill="#262626" xml:space="preserve">DMI</text>
<rect x="3.5" y="393.2" width="62.5" height="19.8" fill="#fff" stroke="#b0b0b0" stroke-width="0.8"/>
<text transform="translate(4.50,399.0) scale(0.88,1)" x="-0.26 3.95 10.52 14.13 18.64" y="0" font-family="'Liberation Sans', sans-serif" font-size="7.1" font-weight="normal" fill="#262626" xml:space="preserve">DMIu=</text>
<text transform="translate(45.25,399.0) scale(0.88,1)" x="0.33 4.93 10.52 14.13 18.74" y="0" font-family="'Liberation Sans', sans-serif" font-size="7.1" font-weight="normal" fill="#262626" xml:space="preserve">21.72</text>
<text transform="translate(4.50,405.1) scale(0.88,1)" x="-0.26 3.95 10.52 14.13 18.64" y="0" font-family="'Liberation Sans', sans-serif" font-size="7.1" font-weight="normal" fill="#262626" xml:space="preserve">DMId=</text>
<text transform="translate(45.25,405.1) scale(0.88,1)" x="0.33 4.93 10.52 14.13 18.74" y="0" font-family="'Liberation Sans', sans-serif" font-size="7.1" font-weight="normal" fill="#262626" xml:space="preserve">17.46</text>
<text transform="translate(4.50,411.2) scale(0.88,1)" x="-0.26 3.95 10.52 13.74 18.54 22.75 27.84 33.53 37.14 42.74 46.35 50.95 55.55 60.16 64.76" y="0" font-family="'Liberation Sans', sans-serif" font-size="7.1" font-weight="normal" fill="#262626" xml:space="preserve">DMIATR= 3.05536</text>
<line x1="4" y1="415.6" x2="757" y2="415.6" stroke="#d8d0ff" stroke-width="0.9"/>
<polyline points="4.50,432.00 30.00,431.00 61.25,432.00 72.50,434.25 82.50,433.75 92.50,434.25 105.00,435.50 122.50,437.00 130.00,433.75 138.75,428.00 150.00,426.25 155.00,423.00 162.50,424.50 172.50,427.00 185.00,427.00 195.00,425.50 200.00,425.00 205.00,424.50 215.00,423.00 225.00,425.00 235.00,426.25 245.00,424.50 255.00,422.50 263.75,420.50 272.50,422.00 282.50,422.00 292.50,422.50 302.50,423.00 312.50,425.00 320.00,425.50 327.50,424.50 332.50,423.75 340.00,424.50 350.00,423.00 360.00,421.25 368.75,419.50 375.00,420.50 385.00,420.50 395.00,422.50 404.00,422.50 415.00,420.30 421.25,420.90 433.75,425.60 443.00,427.20 452.50,429.70 465.00,431.25 477.50,433.40 490.00,434.40 502.50,436.00 515.00,436.60 527.50,436.00 536.90,436.60 551.00,436.60 558.75,430.30 568.00,425.60 577.50,426.25 587.00,427.20 593.00,426.25 599.40,429.40 608.75,425.00 615.00,425.00 624.40,427.20 633.75,428.75 640.00,429.40" fill="none" stroke="#5050ff" stroke-width="1.1" stroke-linejoin="round"/>
<text transform="translate(5.60,421.6) scale(0.88,1)" x="-0.07 4.34 9.14" y="0" font-family="'Liberation Sans', sans-serif" font-size="7.1" font-weight="normal" fill="#262626" xml:space="preserve">ADX</text>
<rect x="3.5" y="427" width="58.4" height="13.5" fill="#fff" stroke="#b0b0b0" stroke-width="0.8"/>
<text transform="translate(4.50,432.9) scale(0.88,1)" x="-0.07 4.34 9.14 14.03" y="0" font-family="'Liberation Sans', sans-serif" font-size="7.1" font-weight="normal" fill="#262626" xml:space="preserve">ADX=</text>
<text transform="translate(41.15,432.9) scale(0.88,1)" x="0.33 4.93 10.52 14.13 18.74" y="0" font-family="'Liberation Sans', sans-serif" font-size="7.1" font-weight="normal" fill="#262626" xml:space="preserve">11.96</text>
<text transform="translate(4.50,439.1) scale(0.88,1)" x="-0.07 4.34 9.14 13.74 18.54 22.75 27.84" y="0" font-family="'Liberation Sans', sans-serif" font-size="7.1" font-weight="normal" fill="#262626" xml:space="preserve">ADXATR=</text>
<text transform="translate(45.20,439.1) scale(0.88,1)" x="0.33 5.92 9.53 14.13" y="0" font-family="'Liberation Sans', sans-serif" font-size="7.1" font-weight="normal" fill="#262626" xml:space="preserve">2.16</text>
<rect x="0" y="0" width="3" height="457" fill="#d9e5f4"/>
<rect x="0" y="0" width="800" height="2" fill="#8c8c8c"/>
<rect x="0" y="0" width="3" height="2" fill="#b8c0ca"/>
<rect x="3" y="0" width="30" height="2" fill="#727272"/>
<rect x="33" y="0" width="20" height="2" fill="#9e9e9e"/>
<rect x="53.5" y="0" width="42.5" height="2" fill="#747474"/>
<rect x="83" y="0" width="1" height="2" fill="#a0a0a0"/>
<rect x="796" y="0" width="4" height="457" fill="#d7e4f5"/>
<rect x="3" y="2" width="755" height="1" fill="#3e3e3e"/>
<rect x="758" y="2" width="38" height="1" fill="#b0b0b0"/>
<rect x="3" y="2" width="1" height="442" fill="#2a2a2a"/>
<rect x="3" y="444" width="1" height="8" fill="#9a9a9a"/>
<rect x="756.8" y="2" width="1.3" height="442" fill="#7a7a7a"/>
<rect x="3" y="205" width="755" height="1" fill="#222"/>
<rect x="3" y="247" width="755" height="1" fill="#222"/>
<rect x="3" y="308" width="755" height="1" fill="#222"/>
<rect x="3" y="364" width="755" height="1" fill="#222"/>
<rect x="3" y="413" width="755" height="2" fill="#606060"/>
<text transform="translate(771.22,10.3) scale(0.88,1)" x="0.32 4.89 10.46 14.05 18.63 23.21" y="0" font-family="'Liberation Sans', sans-serif" font-size="7.1" font-weight="normal" fill="#262626" xml:space="preserve">50.000</text>
<text transform="translate(771.22,33.0) scale(0.88,1)" x="0.32 4.89 10.46 14.05 18.63 23.21" y="0" font-family="'Liberation Sans', sans-serif" font-size="7.1" font-weight="normal" fill="#262626" xml:space="preserve">45.000</text>
<text transform="translate(771.22,55.699999999999996) scale(0.88,1)" x="0.32 4.89 10.46 14.05 18.63 23.21" y="0" font-family="'Liberation Sans', sans-serif" font-size="7.1" font-weight="normal" fill="#262626" xml:space="preserve">40.000</text>
<text transform="translate(771.22,78.39999999999999) scale(0.88,1)" x="0.32 4.89 10.46 14.05 18.63 23.21" y="0" font-family="'Liberation Sans', sans-serif" font-size="7.1" font-weight="normal" fill="#262626" xml:space="preserve">35.000</text>
<text transform="translate(771.22,101.1) scale(0.88,1)" x="0.32 4.89 10.46 14.05 18.63 23.21" y="0" font-family="'Liberation Sans', sans-serif" font-size="7.1" font-weight="normal" fill="#262626" xml:space="preserve">30.000</text>
<text transform="translate(771.22,123.8) scale(0.88,1)" x="0.32 4.89 10.46 14.05 18.63 23.21" y="0" font-family="'Liberation Sans', sans-serif" font-size="7.1" font-weight="normal" fill="#262626" xml:space="preserve">25.000</text>
<text transform="translate(771.22,169.7) scale(0.88,1)" x="0.32 4.89 10.46 14.05 18.63 23.21" y="0" font-family="'Liberation Sans', sans-serif" font-size="7.1" font-weight="normal" fill="#262626" xml:space="preserve">15.000</text>
<text transform="translate(771.22,192.4) scale(0.88,1)" x="0.32 4.89 10.46 14.05 18.63 23.21" y="0" font-family="'Liberation Sans', sans-serif" font-size="7.1" font-weight="normal" fill="#262626" xml:space="preserve">10.000</text>
<text transform="translate(767.19,217.2) scale(0.88,1)" x="0.32 4.89 9.47 14.05 18.63 23.21 27.79" y="0" font-family="'Liberation Sans', sans-serif" font-size="7.1" font-weight="normal" fill="#262626" xml:space="preserve">4000000</text>
<text transform="translate(767.19,230.4) scale(0.88,1)" x="0.32 4.89 9.47 14.05 18.63 23.21 27.79" y="0" font-family="'Liberation Sans', sans-serif" font-size="7.1" font-weight="normal" fill="#262626" xml:space="preserve">2000000</text>
<text transform="translate(791.37,243.4) scale(0.88,1)" x="0.32" y="0" font-family="'Liberation Sans', sans-serif" font-size="7.1" font-weight="normal" fill="#262626" xml:space="preserve">0</text>
<text transform="translate(779.24,266.7) scale(0.88,1)" x="0.32 4.89" y="0" font-family="'Liberation Sans', sans-serif" font-size="7.1" font-weight="normal" fill="#262626" xml:space="preserve">75</text>
<text transform="translate(779.24,280.9) scale(0.88,1)" x="0.32 4.89" y="0" font-family="'Liberation Sans', sans-serif" font-size="7.1" font-weight="normal" fill="#262626" xml:space="preserve">50</text>
<text transform="translate(775.25,324.9) scale(0.88,1)" x="0.32 5.88 9.47 14.05 18.63" y="0" font-family="'Liberation Sans', sans-serif" font-size="7.1" font-weight="normal" fill="#262626" xml:space="preserve">7.500</text>
<text transform="translate(775.25,337.8) scale(0.88,1)" x="0.32 5.88 9.47 14.05 18.63" y="0" font-family="'Liberation Sans', sans-serif" font-size="7.1" font-weight="normal" fill="#262626" xml:space="preserve">5.000</text>
<text transform="translate(775.24,384.4) scale(0.88,1)" x="0.32 4.89" y="0" font-family="'Liberation Sans', sans-serif" font-size="7.1" font-weight="normal" fill="#262626" xml:space="preserve">40</text>
<rect x="758" y="127.4" width="38" height="6.8" fill="#ff1010"/>
<text transform="translate(771.22,133.0) scale(0.88,1)" x="0.32 4.89 10.46 14.05 18.63 23.21" y="0" font-family="'Liberation Sans', sans-serif" font-size="7.1" font-weight="normal" fill="#fff" xml:space="preserve">22.830</text>
<rect x="758" y="130.3" width="38" height="6.8" fill="#111111"/>
<text transform="translate(771.22,135.9) scale(0.88,1)" x="0.32 4.89 10.46 14.05 18.63 23.21" y="0" font-family="'Liberation Sans', sans-serif" font-size="7.1" font-weight="normal" fill="#fff" xml:space="preserve">22.335</text>
<rect x="758" y="137.1" width="38" height="6.8" fill="#ff1010"/>
<text transform="translate(771.22,142.7) scale(0.88,1)" x="0.32 4.89 10.46 14.05 18.63 23.21" y="0" font-family="'Liberation Sans', sans-serif" font-size="7.1" font-weight="normal" fill="#fff" xml:space="preserve">21.908</text>
<rect x="758" y="141.9" width="38" height="6.8" fill="#2020ff"/>
<text transform="translate(771.22,147.5) scale(0.88,1)" x="0.32 4.89 10.46 14.05 18.63 23.21" y="0" font-family="'Liberation Sans', sans-serif" font-size="7.1" font-weight="normal" fill="#fff" xml:space="preserve">19.835</text>
<rect x="758" y="144.7" width="38" height="6.8" fill="#108c10"/>
<text transform="translate(771.22,150.29999999999998) scale(0.88,1)" x="0.32 4.89 10.46 14.05 18.63 23.21" y="0" font-family="'Liberation Sans', sans-serif" font-size="7.1" font-weight="normal" fill="#fff" xml:space="preserve">19.258</text>
<rect x="758" y="229.3" width="38" height="6.6" fill="#1a1a1a"/>
<text transform="translate(767.19,234.9) scale(0.88,1)" x="0.32 4.89 9.47 14.05 18.63 23.21 27.79" y="0" font-family="'Liberation Sans', sans-serif" font-size="7.1" font-weight="normal" fill="#fff" xml:space="preserve">1242359</text>
<rect x="758" y="286.3" width="38" height="6.8" fill="#ff1010"/>
<text transform="translate(779.28,291.90000000000003) scale(0.88,1)" x="0.32 4.89 10.46 14.05" y="0" font-family="'Liberation Sans', sans-serif" font-size="7.1" font-weight="normal" fill="#fff" xml:space="preserve">31.2</text>
<rect x="758" y="290.8" width="38" height="6.8" fill="#1010ff"/>
<text transform="translate(779.28,296.40000000000003) scale(0.88,1)" x="0.32 4.89 10.46 14.05" y="0" font-family="'Liberation Sans', sans-serif" font-size="7.1" font-weight="normal" fill="#fff" xml:space="preserve">22.8</text>
<rect x="758" y="344.1" width="38" height="6.7" fill="#1a1aff"/>
<text transform="translate(775.25,349.70000000000005) scale(0.88,1)" x="0.32 5.88 9.47 14.05 18.63" y="0" font-family="'Liberation Sans', sans-serif" font-size="7.1" font-weight="normal" fill="#fff" xml:space="preserve">2.817</text>
<rect x="758" y="392.9" width="38" height="6.8" fill="#2020ff"/>
<rect x="758" y="396.3" width="38" height="6.8" fill="#ff1010"/>
<rect x="758" y="393.9" width="38" height="7.5" fill="#7a0a50"/>
<text transform="translate(775.25,399.5) scale(0.88,1)" x="0.32 4.89 10.46 14.05 18.63" y="0" font-family="'Liberation Sans', sans-serif" font-size="7.1" font-weight="normal" fill="#fff" xml:space="preserve">19.80</text>
<clipPath id="cb"><rect x="758" y="361.6" width="38" height="2.4"/></clipPath>
<rect x="758" y="361.6" width="38" height="2.4" fill="#7a1040"/>
<g clip-path="url(#cb)">
<text transform="translate(775.25,367.9) scale(0.88,1)" x="0.32 5.88 9.47 14.05 18.63" y="0" font-family="'Liberation Sans', sans-serif" font-size="7.1" font-weight="normal" fill="#ffffff" xml:space="preserve">0.182</text>
</g>
<rect x="4" y="442" width="753" height="2" fill="#e4e4e4"/>
<rect x="4.00" y="442" width="6.50" height="2" fill="#c4c4c4"/>
<rect x="10.50" y="442" width="8.00" height="2" fill="#111111"/>
<rect x="18.50" y="442" width="8.00" height="2" fill="#d00000"/>
<rect x="26.50" y="442" width="12.50" height="2" fill="#10b010"/>
<rect x="39.00" y="442" width="12.25" height="2" fill="#c4c4c4"/>
<rect x="51.25" y="442" width="8.15" height="2" fill="#111111"/>
<rect x="59.40" y="442" width="7.50" height="2" fill="#d00000"/>
<rect x="66.90" y="442" width="8.70" height="2" fill="#10b010"/>
<rect x="75.60" y="442" width="11.65" height="2" fill="#c4c4c4"/>
<rect x="87.25" y="442" width="12.50" height="2" fill="#111111"/>
<rect x="99.75" y="442" width="8.35" height="2" fill="#d00000"/>
<rect x="108.10" y="442" width="8.15" height="2" fill="#10b010"/>
<rect x="116.25" y="442" width="7.75" height="2" fill="#c4c4c4"/>
<rect x="124.00" y="442" width="12.00" height="2" fill="#111111"/>
<rect x="136.00" y="442" width="12.00" height="2" fill="#d00000"/>
<rect x="148.00" y="442" width="8.25" height="2" fill="#10b010"/>
<rect x="156.25" y="442" width="8.15" height="2" fill="#c4c4c4"/>
<rect x="164.40" y="442" width="8.70" height="2" fill="#111111"/>
<rect x="173.10" y="442" width="11.30" height="2" fill="#d00000"/>
<rect x="184.40" y="442" width="13.10" height="2" fill="#10b010"/>
<rect x="197.50" y="442" width="6.90" height="2" fill="#c4c4c4"/>
<rect x="204.40" y="442" width="8.70" height="2" fill="#111111"/>
<rect x="213.10" y="442" width="8.15" height="2" fill="#d00000"/>
<rect x="221.25" y="442" width="11.85" height="2" fill="#10b010"/>
<rect x="233.10" y="442" width="11.90" height="2" fill="#c4c4c4"/>
<rect x="245.00" y="442" width="8.75" height="2" fill="#111111"/>
<rect x="253.75" y="442" width="8.15" height="2" fill="#d00000"/>
<rect x="261.90" y="442" width="8.10" height="2" fill="#10b010"/>
<rect x="270.00" y="442" width="11.90" height="2" fill="#c4c4c4"/>
<rect x="281.90" y="442" width="12.50" height="2" fill="#111111"/>
<rect x="294.40" y="442" width="8.10" height="2" fill="#d00000"/>
<rect x="302.50" y="442" width="7.50" height="2" fill="#10b010"/>
<rect x="310.00" y="442" width="8.10" height="2" fill="#c4c4c4"/>
<rect x="318.10" y="442" width="11.90" height="2" fill="#111111"/>
<rect x="330.00" y="442" width="12.50" height="2" fill="#d00000"/>
<rect x="342.50" y="442" width="8.10" height="2" fill="#10b010"/>
<rect x="350.60" y="442" width="8.15" height="2" fill="#c4c4c4"/>
<rect x="358.75" y="442" width="8.75" height="2" fill="#111111"/>
<rect x="367.50" y="442" width="11.25" height="2" fill="#d00000"/>
<rect x="378.75" y="442" width="11.85" height="2" fill="#10b010"/>
<rect x="390.60" y="442" width="8.15" height="2" fill="#c4c4c4"/>
<rect x="398.75" y="442" width="8.75" height="2" fill="#111111"/>
<rect x="407.50" y="442" width="7.50" height="2" fill="#d00000"/>
<rect x="415.00" y="442" width="12.50" height="2" fill="#10b010"/>
<rect x="427.50" y="442" width="11.90" height="2" fill="#c4c4c4"/>
<rect x="439.40" y="442" width="8.10" height="2" fill="#111111"/>
<rect x="447.50" y="442" width="8.10" height="2" fill="#d00000"/>
<rect x="455.60" y="442" width="8.80" height="2" fill="#10b010"/>
<rect x="464.40" y="442" width="11.85" height="2" fill="#c4c4c4"/>
<rect x="476.25" y="442" width="11.85" height="2" fill="#111111"/>
<rect x="488.10" y="442" width="8.80" height="2" fill="#d00000"/>
<rect x="496.90" y="442" width="7.50" height="2" fill="#10b010"/>
<rect x="504.40" y="442" width="8.10" height="2" fill="#c4c4c4"/>
<rect x="512.50" y="442" width="11.90" height="2" fill="#111111"/>
<rect x="524.40" y="442" width="12.60" height="2" fill="#d00000"/>
<rect x="537.00" y="442" width="8.00" height="2" fill="#10b010"/>
<rect x="545.00" y="442" width="8.30" height="2" fill="#c4c4c4"/>
<rect x="553.30" y="442" width="8.20" height="2" fill="#111111"/>
<rect x="561.50" y="442" width="12.00" height="2" fill="#d00000"/>
<rect x="573.50" y="442" width="12.30" height="2" fill="#10b010"/>
<rect x="585.80" y="442" width="7.20" height="2" fill="#c4c4c4"/>
<rect x="593.00" y="442" width="8.50" height="2" fill="#111111"/>
<rect x="601.50" y="442" width="8.20" height="2" fill="#d00000"/>
<rect x="609.70" y="442" width="11.90" height="2" fill="#10b010"/>
<rect x="621.60" y="442" width="13.40" height="2" fill="#c4c4c4"/>
<rect x="44.80" y="443.5" width="0.9" height="7" fill="#555"/>
<text transform="translate(46.15,450.0) scale(0.88,1)" x="0.27 4.70 9.13 13.56" y="0" font-family="'Liberation Sans', sans-serif" font-size="7.0" font-weight="normal" fill="#262626" xml:space="preserve">2009</text>
<rect x="93.38" y="443.5" width="0.9" height="7" fill="#555"/>
<text transform="translate(94.73,450.0) scale(0.88,1)" x="0.27 4.70 9.13 13.56" y="0" font-family="'Liberation Sans', sans-serif" font-size="7.0" font-weight="normal" fill="#262626" xml:space="preserve">2010</text>
<rect x="141.96" y="443.5" width="0.9" height="7" fill="#555"/>
<text transform="translate(143.31,450.0) scale(0.88,1)" x="0.27 4.70 9.13 13.56" y="0" font-family="'Liberation Sans', sans-serif" font-size="7.0" font-weight="normal" fill="#262626" xml:space="preserve">2011</text>
<rect x="190.54" y="443.5" width="0.9" height="7" fill="#555"/>
<text transform="translate(191.89,450.0) scale(0.88,1)" x="0.27 4.70 9.13 13.56" y="0" font-family="'Liberation Sans', sans-serif" font-size="7.0" font-weight="normal" fill="#262626" xml:space="preserve">2012</text>
<rect x="239.12" y="443.5" width="0.9" height="7" fill="#555"/>
<text transform="translate(240.47,450.0) scale(0.88,1)" x="0.27 4.70 9.13 13.56" y="0" font-family="'Liberation Sans', sans-serif" font-size="7.0" font-weight="normal" fill="#262626" xml:space="preserve">2013</text>
<rect x="287.70" y="443.5" width="0.9" height="7" fill="#555"/>
<text transform="translate(289.05,450.0) scale(0.88,1)" x="0.27 4.70 9.13 13.56" y="0" font-family="'Liberation Sans', sans-serif" font-size="7.0" font-weight="normal" fill="#262626" xml:space="preserve">2014</text>
<rect x="336.28" y="443.5" width="0.9" height="7" fill="#555"/>
<text transform="translate(337.63,450.0) scale(0.88,1)" x="0.27 4.70 9.13 13.56" y="0" font-family="'Liberation Sans', sans-serif" font-size="7.0" font-weight="normal" fill="#262626" xml:space="preserve">2015</text>
<rect x="384.86" y="443.5" width="0.9" height="7" fill="#555"/>
<text transform="translate(386.21,450.0) scale(0.88,1)" x="0.27 4.70 9.13 13.56" y="0" font-family="'Liberation Sans', sans-serif" font-size="7.0" font-weight="normal" fill="#262626" xml:space="preserve">2016</text>
<rect x="433.44" y="443.5" width="0.9" height="7" fill="#555"/>
<text transform="translate(434.79,450.0) scale(0.88,1)" x="0.27 4.70 9.13 13.56" y="0" font-family="'Liberation Sans', sans-serif" font-size="7.0" font-weight="normal" fill="#262626" xml:space="preserve">2017</text>
<rect x="482.02" y="443.5" width="0.9" height="7" fill="#555"/>
<text transform="translate(483.37,450.0) scale(0.88,1)" x="0.27 4.70 9.13 13.56" y="0" font-family="'Liberation Sans', sans-serif" font-size="7.0" font-weight="normal" fill="#262626" xml:space="preserve">2018</text>
<rect x="530.60" y="443.5" width="0.9" height="7" fill="#555"/>
<text transform="translate(531.95,450.0) scale(0.88,1)" x="0.27 4.70 9.13 13.56" y="0" font-family="'Liberation Sans', sans-serif" font-size="7.0" font-weight="normal" fill="#262626" xml:space="preserve">2019</text>
<rect x="579.18" y="443.5" width="0.9" height="7" fill="#555"/>
<text transform="translate(580.53,450.0) scale(0.88,1)" x="0.27 4.70 9.13 13.56" y="0" font-family="'Liberation Sans', sans-serif" font-size="7.0" font-weight="normal" fill="#262626" xml:space="preserve">2020</text>
<rect x="627.76" y="443.5" width="0.9" height="7" fill="#555"/>
<text transform="translate(629.11,450.0) scale(0.88,1)" x="0.27 4.70 9.13 13.56" y="0" font-family="'Liberation Sans', sans-serif" font-size="7.0" font-weight="normal" fill="#262626" xml:space="preserve">2021</text>
<rect x="0" y="452" width="800" height="4" fill="#e3ebf6"/>
<rect x="0" y="456" width="800" height="1" fill="#7a7a7a"/>
<rect x="635" y="405.8" width="161.4" height="46.2" fill="#ffffff"/>
<rect x="635.3" y="406.3" width="46.70" height="23.00" fill="#8d8d8d"/>
<rect x="660.6" y="406.3" width="6.50" height="23.00" fill="#8a8a8a"/>
<rect x="667.1" y="406.3" width="5.30" height="23.00" fill="#979797"/>
<rect x="672.4" y="406.3" width="3.30" height="23.00" fill="#a7a7a7"/>
<rect x="675.7" y="406.3" width="6.30" height="23.00" fill="#939393"/>
<rect x="635.3" y="429.3" width="23.00" height="22.30" fill="#6b9f3f"/>
<rect x="658.3" y="429.3" width="23.70" height="22.30" fill="#8c5a32"/>
<polygon points="658.30,407.00 636.00,429.30 638.80,429.30 658.30,409.80" fill="#b4b4b4"/>
<polygon points="658.30,409.80 638.80,429.30 641.70,429.30 658.30,412.70" fill="#dcdcdc"/>
<polygon points="658.30,412.70 641.70,429.30 644.50,429.30 658.30,415.50" fill="#fafafa"/>
<polygon points="658.30,415.50 644.50,429.30 650.30,429.30 658.30,421.30" fill="#2f2f2f"/>
<polygon points="658.30,407.00 680.60,429.30 677.90,429.30 658.30,409.70" fill="#363636"/>
<polygon points="658.30,409.70 677.90,429.30 675.90,429.30 658.30,411.70" fill="#686868"/>
<polygon points="658.30,411.70 675.90,429.30 670.30,429.30 658.30,417.30" fill="#f2f2f2"/>
<polygon points="658.30,417.30 670.30,429.30 666.30,429.30 658.30,421.30" fill="#cfcfcf"/>
<polygon points="658.30,451.60 636.00,429.30 638.10,429.30 658.30,449.50" fill="#e07458"/>
<polygon points="658.30,449.50 638.10,429.30 639.70,429.30 658.30,447.90" fill="#e8cfae"/>
<polygon points="658.30,447.90 639.70,429.30 641.10,429.30 658.30,446.50" fill="#2a1a10"/>
<polygon points="658.30,446.50 641.10,429.30 645.30,429.30 658.30,442.30" fill="#7a4a2a"/>
<polygon points="658.30,442.30 645.30,429.30 650.30,429.30 658.30,437.30" fill="#4a3018"/>
<polygon points="658.30,447.50 676.50,429.30 675.40,429.30 658.30,446.40" fill="#2a1a10"/>
<polygon points="658.30,446.40 675.40,429.30 666.30,429.30 658.30,437.30" fill="#8a5530"/>
<polygon points="658.2,419.9 667.0,428.6 658.2,437.3 649.5,428.6" fill="#6aaa46"/>
<rect x="681.9" y="406.3" width="2.1" height="45.30" fill="#8c6262"/>
<polygon points="684,406.3 684,451.6 698.2,451.6 698.2,427.5" fill="#9a6e6e"/>
<polygon points="684,406.3 705.9,406.3 705.9,414 702.6,416.5 702.6,426.2 706.4,426.2 706.4,451.6 698.2,451.6 698.2,427.5 684,414" fill="#6aaa46"/>
<rect x="702.6" y="416.5" width="4" height="9.7" fill="#ffffff"/>
<polygon points="705.9,406.3 706.4,406.3 706.4,414 705.9,414" fill="#ffffff"/>
<text x="0" y="0" transform="translate(691.4,426.1) scale(0.93,1)" font-family="'Liberation Sans', sans-serif" font-size="17.6" font-weight="bold" fill="#ffffff" stroke="#ffffff" stroke-width="2.1" stroke-linejoin="round">S</text>
<polygon points="691.6,429.8 696,429.8 696,429.4 699,429.4 699,430.4 704.8,430.4 704.8,429.4 706.3,429.4 706.3,445.7 704.8,445.7 704.8,444.4 699,444.4 699,445.7 691,445.7 691,439 692.6,438.2 692.6,437.6 691,437.4 691,433.8 692.8,433.6 692.8,432.8 691.6,432.6" fill="#a0a0a0"/>
<rect x="693.3" y="432.5" width="2" height="1" fill="#b09080"/><rect x="693.3" y="437.4" width="2" height="1" fill="#b09080"/>
<rect x="699" y="436" width="2" height="0.7" fill="#b8a890"/><rect x="702.5" y="436" width="2" height="0.7" fill="#b8a890"/>
<path d="M722,429.6 h14 v1 h0.8 v5 h-0.8 v4 h0.8 v5 h-0.8 v0.6 h-14 v-0.6 h-0.8 v-5 h0.8 v-4 h-0.8 v-5 h0.8 z" fill="#999999"/>
<rect x="724" y="436" width="4" height="0.8" fill="#e4e4e4"/><rect x="730" y="436" width="4" height="0.8" fill="#e4e4e4"/>
<rect x="724" y="438.5" width="9" height="0.9" fill="#ececec"/><rect x="725" y="441.3" width="8" height="0.8" fill="#dcdcdc"/>
<rect x="732.5" y="431.5" width="1.5" height="1.5" fill="#e0e0e0"/>
<rect x="753.8" y="429.4" width="2" height="1.6" fill="#999999"/><rect x="758" y="429.4" width="2" height="1.6" fill="#999999"/>
<polygon points="752.2,431.5 754.7,430.8 754.7,440.2 751.4,440.2 751.4,433" fill="#999999"/>
<rect x="754.3" y="430.8" width="11.5" height="9.5" fill="#999999"/>
<rect x="750.9" y="440.2" width="15.9" height="1.8" fill="#999999"/>
<rect x="757.6" y="440" width="2" height="5.3" fill="#999999"/>
<polygon points="757.4,441.6 758.2,443.1 752.1,445.6 750.5,445" fill="#999999"/>
<polygon points="759.8,441.6 759.0,443.1 765.3,445.6 766.9,445" fill="#999999"/>
<rect x="756" y="433.3" width="8.5" height="0.7" fill="#e0e0e0"/><rect x="756" y="435.6" width="8.5" height="0.7" fill="#e2e2e2"/><rect x="756" y="438" width="8.5" height="0.7" fill="#e0e0e0"/>
<rect x="781.1" y="430" width="13.8" height="15.5" fill="#999999"/>
<rect x="783" y="432.3" width="4" height="0.8" fill="#e4e4e4"/><rect x="789" y="432.3" width="4" height="0.8" fill="#e4e4e4"/>
<path d="M786.5,437.5 q2.5,-0.5 2,2 q-0.5,2 -3,3" fill="none" stroke="#e4e4e4" stroke-width="0.8"/>
<rect x="783" y="442.3" width="1.3" height="1.3" fill="#ececec"/><rect x="791.5" y="442.3" width="1.3" height="1.3" fill="#ececec"/>
<rect x="794.9" y="427" width="1.2" height="7.5" fill="#2020ff"/>
</svg></body></html>
